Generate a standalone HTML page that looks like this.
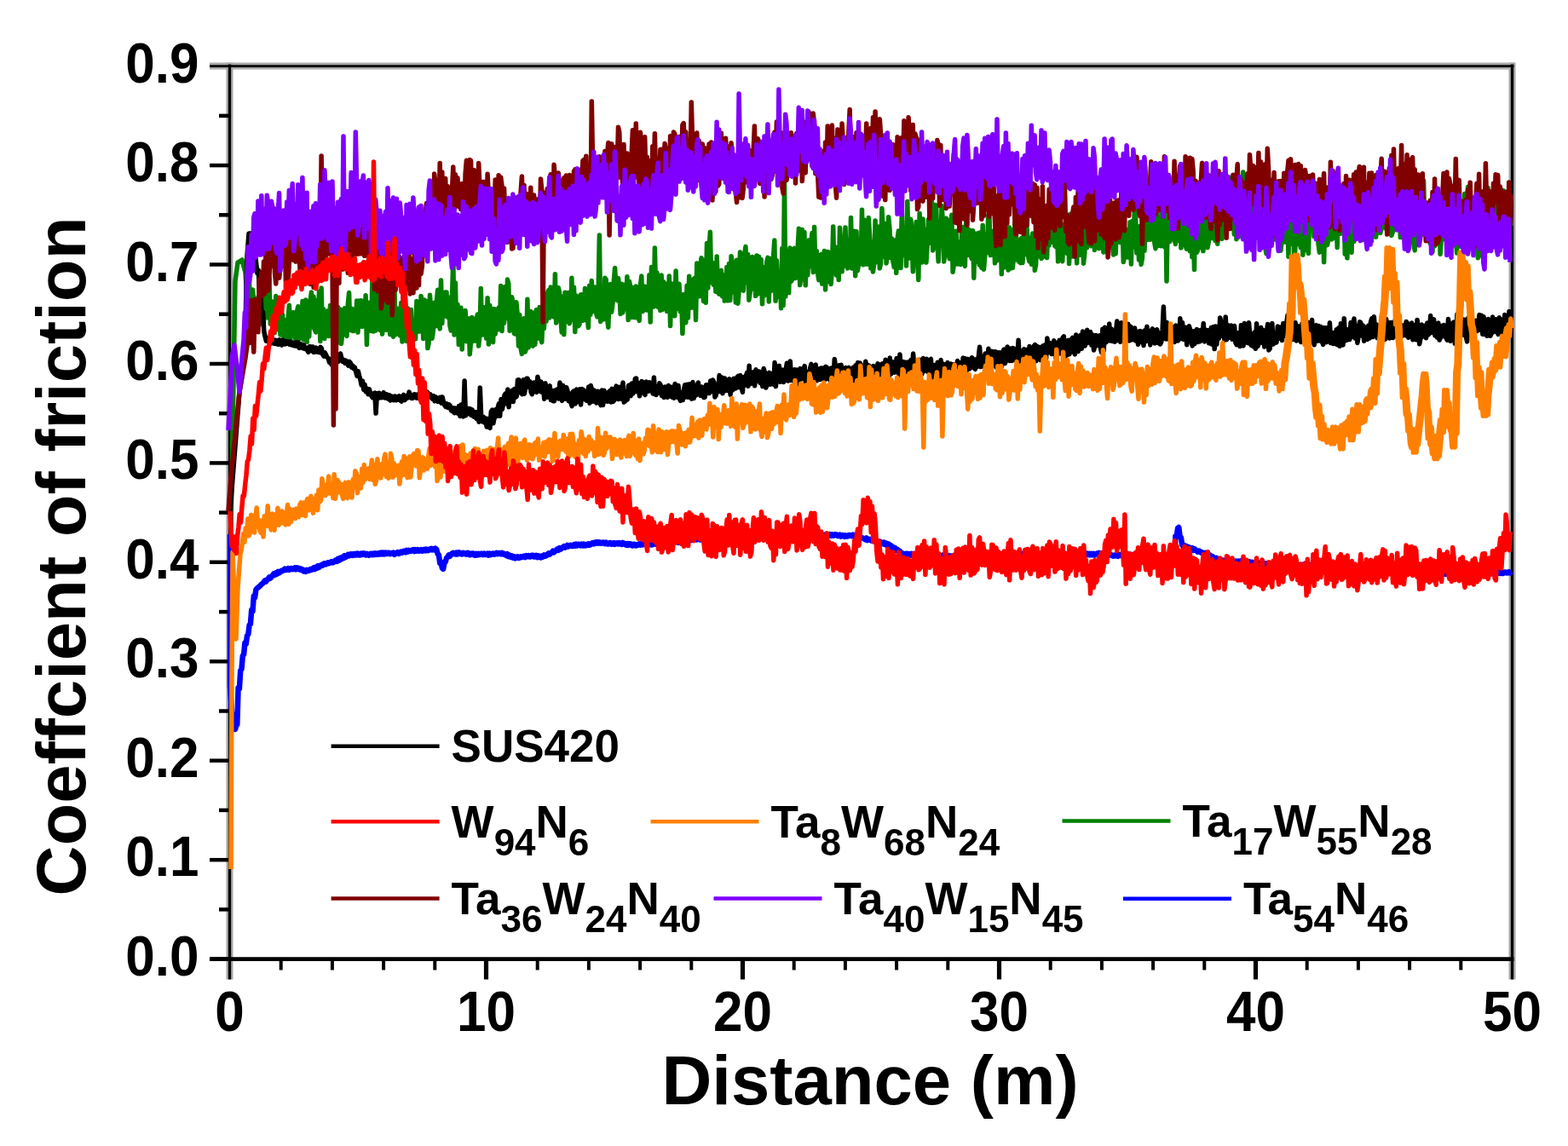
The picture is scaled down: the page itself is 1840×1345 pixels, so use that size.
<!DOCTYPE html>
<html><head><meta charset="utf-8"><title>Coefficient of friction vs distance</title>
<style>
html,body{margin:0;padding:0;background:#fff;}
body{width:1840px;height:1345px;overflow:hidden;}
svg{display:block;}
text{font-family:"Liberation Sans",Arial,sans-serif;font-weight:bold;fill:#000;}
.t{font-size:62px;}
.xt{font-size:81.5px;}
.yt{font-size:81.5px;}
.lg{font-size:53px;}
.s{font-size:44px;}
</style></head><body>
<svg width="1840" height="1345" viewBox="0 0 1840 1345">
<rect width="1840" height="1345" fill="#fff"/>
<g><line x1="269.5" y1="73.6" x2="269.5" y2="1149.5" stroke="#a8a8a8" stroke-width="8"/><line x1="1774.5" y1="73.6" x2="1774.5" y2="1149.5" stroke="#a8a8a8" stroke-width="8"/><line x1="246" y1="77.6" x2="1777.5" y2="77.6" stroke="#a8a8a8" stroke-width="8"/></g>
<g><line x1="246" y1="1125.6" x2="269.5" y2="1125.6" stroke="#000" stroke-width="4.5"/><line x1="246" y1="1009.2" x2="269.5" y2="1009.2" stroke="#000" stroke-width="4.5"/><line x1="246" y1="892.7" x2="269.5" y2="892.7" stroke="#000" stroke-width="4.5"/><line x1="246" y1="776.3" x2="269.5" y2="776.3" stroke="#000" stroke-width="4.5"/><line x1="246" y1="659.8" x2="269.5" y2="659.8" stroke="#000" stroke-width="4.5"/><line x1="246" y1="543.4" x2="269.5" y2="543.4" stroke="#000" stroke-width="4.5"/><line x1="246" y1="427.0" x2="269.5" y2="427.0" stroke="#000" stroke-width="4.5"/><line x1="246" y1="310.5" x2="269.5" y2="310.5" stroke="#000" stroke-width="4.5"/><line x1="246" y1="194.1" x2="269.5" y2="194.1" stroke="#000" stroke-width="4.5"/><line x1="257" y1="1067.4" x2="269.5" y2="1067.4" stroke="#000" stroke-width="4.5"/><line x1="257" y1="950.9" x2="269.5" y2="950.9" stroke="#000" stroke-width="4.5"/><line x1="257" y1="834.5" x2="269.5" y2="834.5" stroke="#000" stroke-width="4.5"/><line x1="257" y1="718.1" x2="269.5" y2="718.1" stroke="#000" stroke-width="4.5"/><line x1="257" y1="601.6" x2="269.5" y2="601.6" stroke="#000" stroke-width="4.5"/><line x1="257" y1="485.2" x2="269.5" y2="485.2" stroke="#000" stroke-width="4.5"/><line x1="257" y1="368.7" x2="269.5" y2="368.7" stroke="#000" stroke-width="4.5"/><line x1="257" y1="252.3" x2="269.5" y2="252.3" stroke="#000" stroke-width="4.5"/><line x1="257" y1="135.9" x2="269.5" y2="135.9" stroke="#000" stroke-width="4.5"/><line x1="570.5" y1="1125.6" x2="570.5" y2="1149.5" stroke="#000" stroke-width="5.2"/><line x1="871.5" y1="1125.6" x2="871.5" y2="1149.5" stroke="#000" stroke-width="5.2"/><line x1="1172.5" y1="1125.6" x2="1172.5" y2="1149.5" stroke="#000" stroke-width="5.2"/><line x1="1473.5" y1="1125.6" x2="1473.5" y2="1149.5" stroke="#000" stroke-width="5.2"/><line x1="329.7" y1="1125.6" x2="329.7" y2="1138.5" stroke="#000" stroke-width="4"/><line x1="389.9" y1="1125.6" x2="389.9" y2="1138.5" stroke="#000" stroke-width="4"/><line x1="450.1" y1="1125.6" x2="450.1" y2="1138.5" stroke="#000" stroke-width="4"/><line x1="510.3" y1="1125.6" x2="510.3" y2="1138.5" stroke="#000" stroke-width="4"/><line x1="630.7" y1="1125.6" x2="630.7" y2="1138.5" stroke="#000" stroke-width="4"/><line x1="690.9" y1="1125.6" x2="690.9" y2="1138.5" stroke="#000" stroke-width="4"/><line x1="751.1" y1="1125.6" x2="751.1" y2="1138.5" stroke="#000" stroke-width="4"/><line x1="811.3" y1="1125.6" x2="811.3" y2="1138.5" stroke="#000" stroke-width="4"/><line x1="931.7" y1="1125.6" x2="931.7" y2="1138.5" stroke="#000" stroke-width="4"/><line x1="991.9" y1="1125.6" x2="991.9" y2="1138.5" stroke="#000" stroke-width="4"/><line x1="1052.1" y1="1125.6" x2="1052.1" y2="1138.5" stroke="#000" stroke-width="4"/><line x1="1112.3" y1="1125.6" x2="1112.3" y2="1138.5" stroke="#000" stroke-width="4"/><line x1="1232.7" y1="1125.6" x2="1232.7" y2="1138.5" stroke="#000" stroke-width="4"/><line x1="1292.9" y1="1125.6" x2="1292.9" y2="1138.5" stroke="#000" stroke-width="4"/><line x1="1353.1" y1="1125.6" x2="1353.1" y2="1138.5" stroke="#000" stroke-width="4"/><line x1="1413.3" y1="1125.6" x2="1413.3" y2="1138.5" stroke="#000" stroke-width="4"/><line x1="1533.7" y1="1125.6" x2="1533.7" y2="1138.5" stroke="#000" stroke-width="4"/><line x1="1593.9" y1="1125.6" x2="1593.9" y2="1138.5" stroke="#000" stroke-width="4"/><line x1="1654.1" y1="1125.6" x2="1654.1" y2="1138.5" stroke="#000" stroke-width="4"/><line x1="1714.3" y1="1125.6" x2="1714.3" y2="1138.5" stroke="#000" stroke-width="4"/></g>
<g><line x1="269.5" y1="75.6" x2="269.5" y2="1149.5" stroke="#000" stroke-width="3.3"/><line x1="1774.5" y1="75.6" x2="1774.5" y2="1149.5" stroke="#000" stroke-width="3.3"/><line x1="246" y1="77.6" x2="1776.5" y2="77.6" stroke="#000" stroke-width="2.8"/><line x1="246" y1="1125.6" x2="1776.5" y2="1125.6" stroke="#000" stroke-width="4.6"/></g>
<g><polyline fill="none" stroke="#0000ff" stroke-width="6.5" stroke-linejoin="round" stroke-linecap="butt" points="270.0,627.0 270.0,805.0 272.0,835.0 276.0,856.0 277.0,851.9 278.3,850.4 279.6,807.2 280.9,808.3 282.2,787.2 283.5,785.3 284.8,769.7 286.1,768.0 287.4,754.5 288.7,755.7 290.0,746.1 291.3,744.3 292.6,733.8 293.9,732.4 295.2,715.9 296.5,717.6 297.8,699.7 299.1,701.3 300.4,691.9 301.7,690.5 303.0,689.4 304.3,688.4 305.6,687.2 306.9,685.7 308.2,684.8 309.5,683.3 310.8,681.4 312.1,682.6 313.4,680.4 314.7,679.5 316.0,677.3 317.3,678.7 318.6,676.8 319.9,675.2 321.2,673.5 322.5,674.9 323.8,672.3 325.1,673.6 326.4,671.0 327.7,672.4 329.0,671.1 330.3,669.7 331.6,670.0 332.9,668.8 334.2,667.6 335.5,669.0 336.8,668.8 338.1,667.2 339.4,668.8 340.7,667.1 342.0,666.9 343.3,668.2 344.6,667.8 345.9,666.5 347.2,668.2 348.5,666.3 349.8,666.7 351.1,668.3 352.4,667.4 353.7,669.0 355.0,668.4 356.3,670.3 357.6,669.3 358.9,670.8 360.2,668.9 361.5,670.1 362.8,669.7 364.1,668.2 365.4,668.9 366.7,667.7 368.0,666.5 369.3,668.1 370.6,665.6 371.9,666.9 373.2,664.1 374.5,665.9 375.8,664.5 377.1,663.0 378.4,663.7 379.7,661.8 381.0,661.2 382.3,662.4 383.6,661.7 384.9,660.3 386.2,661.2 387.5,660.0 388.8,659.2 390.1,660.4 391.4,660.1 392.7,658.4 394.0,657.4 395.3,658.8 396.6,655.9 397.9,657.8 399.2,654.8 400.5,656.3 401.8,653.8 403.1,655.1 404.4,652.2 405.7,653.9 407.0,652.6 408.3,650.9 409.6,652.4 410.9,650.4 412.2,650.2 413.5,651.7 414.8,650.2 416.1,651.5 417.4,650.0 418.7,651.2 420.0,649.7 421.3,651.4 422.6,651.4 423.9,649.8 425.2,650.9 426.5,649.3 427.8,649.7 429.1,651.4 430.4,649.9 431.7,651.2 433.0,651.7 434.3,650.0 435.6,649.8 436.9,651.1 438.2,649.7 439.5,650.9 440.8,649.4 442.1,650.8 443.4,650.8 444.7,649.1 446.0,650.3 447.3,648.7 448.6,650.4 449.9,648.7 451.2,650.2 452.5,648.7 453.8,649.9 455.1,648.8 456.4,648.7 457.7,650.1 459.0,649.0 460.3,650.0 461.6,648.8 462.9,650.7 464.2,649.7 465.5,648.7 466.8,648.0 468.1,649.8 469.4,649.2 470.7,647.6 472.0,648.5 473.3,647.0 474.6,646.7 475.9,648.2 477.2,646.0 478.5,647.5 479.8,645.9 481.1,647.1 482.4,646.8 483.7,645.4 485.0,645.1 486.3,647.0 487.6,645.1 488.9,646.6 490.2,645.3 491.5,646.7 492.8,646.3 494.1,645.2 495.4,646.8 496.7,645.3 498.0,644.8 499.3,646.3 500.6,644.7 501.9,646.2 503.2,645.8 504.5,644.5 505.8,643.9 507.1,645.4 508.4,644.1 509.7,645.3 511.0,643.8 512.3,645.0 513.6,650.0 514.9,651.4 516.2,660.7 517.5,659.5 518.8,666.5 520.1,667.9 521.4,660.8 522.7,659.4 524.0,654.8 525.3,653.6 526.6,651.5 527.9,652.9 529.2,651.0 530.5,649.5 531.8,648.8 533.1,650.1 534.4,650.5 535.7,648.8 537.0,650.3 538.3,648.3 539.6,648.8 540.9,650.3 542.2,650.4 543.5,648.8 544.8,649.2 546.1,650.4 547.4,650.7 548.7,648.8 550.0,649.2 551.3,651.3 552.6,651.1 553.9,649.6 555.2,649.6 556.5,651.5 557.8,651.7 559.1,650.0 560.4,651.4 561.7,650.0 563.0,651.0 564.3,649.8 565.6,649.8 566.9,651.0 568.2,649.7 569.5,651.0 570.8,650.9 572.1,649.7 573.4,651.6 574.7,649.6 576.0,651.0 577.3,649.8 578.6,649.5 579.9,650.7 581.2,650.3 582.5,649.0 583.8,650.2 585.1,649.1 586.4,649.0 587.7,650.2 589.0,648.9 590.3,650.4 591.6,649.9 592.9,651.1 594.2,652.0 595.5,650.3 596.8,653.0 598.1,651.7 599.4,653.8 600.7,652.4 602.0,654.7 603.3,653.5 604.6,655.2 605.9,653.9 607.2,653.4 608.5,655.0 609.8,654.6 611.1,653.3 612.4,654.0 613.7,653.1 615.0,652.5 616.3,654.0 617.6,652.1 618.9,653.2 620.2,652.1 621.5,653.4 622.8,653.4 624.1,651.7 625.4,651.8 626.7,653.5 628.0,653.4 629.3,651.9 630.6,654.1 631.9,652.4 633.2,652.8 634.5,654.4 635.8,652.7 637.1,653.5 638.4,651.5 639.7,652.8 641.0,652.3 642.3,650.5 643.6,649.5 644.9,650.8 646.2,649.5 647.5,648.4 648.8,646.8 650.1,648.3 651.4,647.0 652.7,645.6 654.0,644.4 655.3,645.9 656.6,643.2 657.9,644.6 659.2,643.3 660.5,642.3 661.8,641.2 663.1,642.6 664.4,641.6 665.7,639.9 667.0,641.4 668.3,640.2 669.6,639.8 670.9,640.9 672.2,640.9 673.5,639.3 674.8,640.5 676.1,638.8 677.4,640.3 678.7,638.7 680.0,639.1 681.3,640.4 682.6,638.7 683.9,640.4 685.2,638.8 686.5,640.4 687.8,640.2 689.1,638.8 690.4,638.3 691.7,639.8 693.0,639.3 694.3,637.7 695.6,637.0 696.9,638.4 698.2,636.7 699.5,637.7 700.8,636.2 702.1,637.5 703.4,636.3 704.7,637.5 706.0,637.7 707.3,636.4 708.6,636.6 709.9,638.1 711.2,636.6 712.5,638.6 713.8,638.5 715.1,637.2 716.4,637.1 717.7,638.8 719.0,638.6 720.3,637.3 721.6,638.7 722.9,637.4 724.2,637.3 725.5,638.4 726.8,637.2 728.1,638.4 729.4,638.9 730.7,636.9 732.0,637.6 733.3,638.9 734.6,639.6 735.9,638.1 737.2,639.9 738.5,638.1 739.8,638.3 741.1,640.2 742.4,640.5 743.7,638.7 745.0,638.9 746.3,640.5 747.6,640.1 748.9,638.8 750.2,638.3 751.5,639.6 752.8,637.5 754.1,639.4 755.4,639.0 756.7,637.9 758.0,637.7 759.3,639.1 760.6,638.0 761.9,639.0 763.2,637.8 764.5,639.5 765.8,639.2 767.1,637.6 768.4,637.0 769.7,638.6 771.0,636.8 772.3,638.3 773.6,635.8 774.9,637.2 776.2,637.0 777.5,635.2 778.8,636.1 780.1,635.0 781.4,634.7 782.7,635.9 784.0,636.3 785.3,635.0 786.6,636.1 787.9,634.9 789.2,634.5 790.5,636.5 791.8,636.3 793.1,635.3 794.4,635.3 795.7,636.7 797.0,634.8 798.3,636.6 799.6,634.7 800.9,636.4 802.2,634.9 803.5,636.2 804.8,634.4 806.1,635.8 807.4,635.2 808.7,633.7 810.0,634.1 811.3,632.7 812.6,633.7 813.9,632.2 815.2,633.4 816.5,631.7 817.8,633.2 819.1,632.1 820.4,631.8 821.7,633.4 823.0,632.1 824.3,633.4 825.6,632.0 826.9,633.9 828.2,632.5 829.5,634.0 830.8,633.8 832.1,632.5 833.4,632.2 834.7,634.3 836.0,631.9 837.3,633.2 838.6,632.9 839.9,631.6 841.2,632.5 842.5,631.2 843.8,631.1 845.1,632.6 846.4,632.2 847.7,630.7 849.0,631.7 850.3,630.6 851.6,630.4 852.9,631.7 854.2,630.1 855.5,631.8 856.8,630.0 858.1,631.5 859.4,629.9 860.7,631.5 862.0,631.8 863.3,630.3 864.6,632.1 865.9,630.5 867.2,630.4 868.5,631.9 869.8,630.4 871.1,632.5 872.4,630.0 873.7,631.6 875.0,629.8 876.3,631.1 877.6,630.8 878.9,629.5 880.2,630.5 881.5,629.2 882.8,628.8 884.1,630.2 885.4,630.0 886.7,628.5 888.0,629.9 889.3,627.9 890.6,627.8 891.9,629.1 893.2,628.7 894.5,627.5 895.8,627.4 897.1,628.5 898.4,626.9 899.7,628.5 901.0,627.0 902.3,628.3 903.6,626.9 904.9,628.2 906.2,628.4 907.5,627.1 908.8,628.5 910.1,626.9 911.4,627.1 912.7,628.3 914.0,628.2 915.3,627.2 916.6,627.0 917.9,628.3 919.2,627.4 920.5,628.6 921.8,627.1 923.1,628.5 924.4,627.0 925.7,628.2 927.0,626.7 928.3,628.3 929.6,626.8 930.9,628.1 932.2,626.8 933.5,627.9 934.8,628.4 936.1,627.1 937.4,628.0 938.7,626.7 940.0,626.8 941.3,628.5 942.6,626.7 943.9,628.4 945.2,626.6 946.5,628.4 947.8,628.3 949.1,626.8 950.4,627.1 951.7,628.3 953.0,627.3 954.3,628.5 955.6,627.3 956.9,628.6 958.2,629.0 959.5,627.5 960.8,629.0 962.1,627.8 963.4,628.9 964.7,627.8 966.0,627.8 967.3,629.1 968.6,627.7 969.9,628.9 971.2,627.6 972.5,628.8 973.8,627.3 975.1,628.7 976.4,627.4 977.7,628.8 979.0,628.4 980.3,627.1 981.6,627.4 982.9,629.0 984.2,629.1 985.5,627.6 986.8,629.6 988.1,628.0 989.4,628.2 990.7,629.9 992.0,628.4 993.3,629.5 994.6,629.4 995.9,628.1 997.2,628.0 998.5,629.1 999.8,629.2 1001.1,627.6 1002.4,628.5 1003.7,629.7 1005.0,629.2 1006.3,630.5 1007.6,629.6 1008.9,631.0 1010.2,630.4 1011.5,631.6 1012.8,631.5 1014.1,632.5 1015.4,633.3 1016.7,631.4 1018.0,634.0 1019.3,632.7 1020.6,633.0 1021.9,634.4 1023.2,633.9 1024.5,635.1 1025.8,635.5 1027.1,634.3 1028.4,635.0 1029.7,636.4 1031.0,636.9 1032.3,635.5 1033.6,636.0 1034.9,637.6 1036.2,638.3 1037.5,636.8 1038.8,639.0 1040.1,637.7 1041.4,640.2 1042.7,638.5 1044.0,641.3 1045.3,640.3 1046.6,643.1 1047.9,642.0 1049.2,644.5 1050.5,643.2 1051.8,646.2 1053.1,645.0 1054.4,647.9 1055.7,646.6 1057.0,648.3 1058.3,649.6 1059.6,649.5 1060.9,651.0 1062.2,651.2 1063.5,649.8 1064.8,649.7 1066.1,651.2 1067.4,650.1 1068.7,651.5 1070.0,649.9 1071.3,651.3 1072.6,650.1 1073.9,651.4 1075.2,651.6 1076.5,650.6 1077.8,652.8 1079.1,650.7 1080.4,651.5 1081.7,652.8 1083.0,653.0 1084.3,651.5 1085.6,653.3 1086.9,651.7 1088.2,651.7 1089.5,652.9 1090.8,653.0 1092.1,651.2 1093.4,652.8 1094.7,651.5 1096.0,651.3 1097.3,652.9 1098.6,653.3 1099.9,651.8 1101.2,652.0 1102.5,653.1 1103.8,652.0 1105.1,653.1 1106.4,651.8 1107.7,653.7 1109.0,652.0 1110.3,653.3 1111.6,652.2 1112.9,653.7 1114.2,652.4 1115.5,653.8 1116.8,652.8 1118.1,654.5 1119.4,652.9 1120.7,654.3 1122.0,654.1 1123.3,653.0 1124.6,654.2 1125.9,652.3 1127.2,653.3 1128.5,652.0 1129.8,653.1 1131.1,651.6 1132.4,653.1 1133.7,651.6 1135.0,653.0 1136.3,651.5 1137.6,653.2 1138.9,651.8 1140.2,652.0 1141.5,653.4 1142.8,652.6 1144.1,653.7 1145.4,652.3 1146.7,653.7 1148.0,652.3 1149.3,653.9 1150.6,653.8 1151.9,652.6 1153.2,653.8 1154.5,652.2 1155.8,653.5 1157.1,651.9 1158.4,651.2 1159.7,653.1 1161.0,653.2 1162.3,651.5 1163.6,652.8 1164.9,651.3 1166.2,651.1 1167.5,652.5 1168.8,650.6 1170.1,652.2 1171.4,651.6 1172.7,649.6 1174.0,651.3 1175.3,650.3 1176.6,650.0 1177.9,651.7 1179.2,651.8 1180.5,650.0 1181.8,651.9 1183.1,649.8 1184.4,652.2 1185.7,650.6 1187.0,652.2 1188.3,650.8 1189.6,652.1 1190.9,650.7 1192.2,650.4 1193.5,652.0 1194.8,650.1 1196.1,651.6 1197.4,651.3 1198.7,649.6 1200.0,651.2 1201.3,649.6 1202.6,650.7 1203.9,649.6 1205.2,650.5 1206.5,649.1 1207.8,649.4 1209.1,650.6 1210.4,650.9 1211.7,649.6 1213.0,651.7 1214.3,649.4 1215.6,651.3 1216.9,649.8 1218.2,651.9 1219.5,650.5 1220.8,650.6 1222.1,652.2 1223.4,650.8 1224.7,652.1 1226.0,651.0 1227.3,652.4 1228.6,652.4 1229.9,650.8 1231.2,650.8 1232.5,652.4 1233.8,650.7 1235.1,652.1 1236.4,652.3 1237.7,650.8 1239.0,652.0 1240.3,650.9 1241.6,651.9 1242.9,650.5 1244.2,651.9 1245.5,650.3 1246.8,650.4 1248.1,651.8 1249.4,650.1 1250.7,651.7 1252.0,650.1 1253.3,651.8 1254.6,651.1 1255.9,649.6 1257.2,649.1 1258.5,650.6 1259.8,650.6 1261.1,649.1 1262.4,650.6 1263.7,649.1 1265.0,650.4 1266.3,648.7 1267.6,650.5 1268.9,649.1 1270.2,651.0 1271.5,649.3 1272.8,651.3 1274.1,649.9 1275.4,649.6 1276.7,651.1 1278.0,649.9 1279.3,651.4 1280.6,649.9 1281.9,651.2 1283.2,649.9 1284.5,651.6 1285.8,650.8 1287.1,649.6 1288.4,651.0 1289.7,649.0 1291.0,651.0 1292.3,649.3 1293.6,649.5 1294.9,651.3 1296.2,651.5 1297.5,649.8 1298.8,650.0 1300.1,651.5 1301.4,651.7 1302.7,650.5 1304.0,651.1 1305.3,652.1 1306.6,652.6 1307.9,651.5 1309.2,652.4 1310.5,651.0 1311.8,652.7 1313.1,651.2 1314.4,652.0 1315.7,650.8 1317.0,652.0 1318.3,650.9 1319.6,650.7 1320.9,651.7 1322.2,651.8 1323.5,650.1 1324.8,651.9 1326.1,650.5 1327.4,651.0 1328.7,652.1 1330.0,650.9 1331.3,652.1 1332.6,652.5 1333.9,651.0 1335.2,652.4 1336.5,651.1 1337.8,652.8 1339.1,651.1 1340.4,651.1 1341.7,652.4 1343.0,652.3 1344.3,651.3 1345.6,651.3 1346.9,652.6 1348.2,652.6 1349.5,651.1 1350.8,651.1 1352.1,652.7 1353.4,651.0 1354.7,653.1 1356.0,651.4 1357.3,653.1 1358.6,651.2 1359.9,652.7 1361.2,652.8 1362.5,651.3 1363.8,651.8 1365.1,653.0 1366.4,653.1 1367.7,651.9 1369.0,652.1 1370.3,653.2 1371.6,652.0 1372.9,653.6 1374.2,653.7 1375.5,652.4 1376.8,652.2 1378.1,653.8 1379.4,629.2 1380.7,630.5 1382.0,620.1 1383.3,619.0 1384.6,629.9 1385.9,630.9 1387.2,639.5 1388.5,641.1 1389.8,640.1 1391.1,641.5 1392.4,641.1 1393.7,641.9 1395.0,642.1 1396.3,643.4 1397.6,644.6 1398.9,643.3 1400.2,645.8 1401.5,644.2 1402.8,645.2 1404.1,646.6 1405.4,647.7 1406.7,646.5 1408.0,646.8 1409.3,648.6 1410.6,648.2 1411.9,649.5 1413.2,650.5 1414.5,648.9 1415.8,650.2 1417.1,651.5 1418.4,652.9 1419.7,651.5 1421.0,654.2 1422.3,652.8 1423.6,653.7 1424.9,655.3 1426.2,656.2 1427.5,654.9 1428.8,656.0 1430.1,657.4 1431.4,659.0 1432.7,657.1 1434.0,659.0 1435.3,657.6 1436.6,657.8 1437.9,659.6 1439.2,658.4 1440.5,659.7 1441.8,660.0 1443.1,658.7 1444.4,660.4 1445.7,658.6 1447.0,660.3 1448.3,658.7 1449.6,660.3 1450.9,658.7 1452.2,660.0 1453.5,658.7 1454.8,659.9 1456.1,658.4 1457.4,660.3 1458.7,658.8 1460.0,660.5 1461.3,659.0 1462.6,658.8 1463.9,660.4 1465.2,661.0 1466.5,659.4 1467.8,661.1 1469.1,659.8 1470.4,660.2 1471.7,661.4 1473.0,660.5 1474.3,661.5 1475.6,661.7 1476.9,660.6 1478.2,662.0 1479.5,660.7 1480.8,660.9 1482.1,662.0 1483.4,662.4 1484.7,661.1 1486.0,661.4 1487.3,662.6 1488.6,661.9 1489.9,663.1 1491.2,661.5 1492.5,663.1 1493.8,661.6 1495.1,663.2 1496.4,661.7 1497.7,663.2 1499.0,663.1 1500.3,661.3 1501.6,662.8 1502.9,661.4 1504.2,663.3 1505.5,661.7 1506.8,663.2 1508.1,661.5 1509.4,661.8 1510.7,662.9 1512.0,663.8 1513.3,662.1 1514.6,662.5 1515.9,663.4 1517.2,663.9 1518.5,662.4 1519.8,662.7 1521.1,664.0 1522.4,662.9 1523.7,664.3 1525.0,664.0 1526.3,662.9 1527.6,664.3 1528.9,662.8 1530.2,662.7 1531.5,664.5 1532.8,664.2 1534.1,662.8 1535.4,662.5 1536.7,664.4 1538.0,663.1 1539.3,664.1 1540.6,664.2 1541.9,663.1 1543.2,663.2 1544.5,664.5 1545.8,663.4 1547.1,664.7 1548.4,665.4 1549.7,663.5 1551.0,664.0 1552.3,665.7 1553.6,665.3 1554.9,663.7 1556.2,665.6 1557.5,663.5 1558.8,665.8 1560.1,664.0 1561.4,666.0 1562.7,664.5 1564.0,664.5 1565.3,666.2 1566.6,666.8 1567.9,665.0 1569.2,666.8 1570.5,665.4 1571.8,667.3 1573.1,665.9 1574.4,665.9 1575.7,667.1 1577.0,667.5 1578.3,665.9 1579.6,666.3 1580.9,667.5 1582.2,666.6 1583.5,667.9 1584.8,666.9 1586.1,668.1 1587.4,668.0 1588.7,666.7 1590.0,667.8 1591.3,666.8 1592.6,668.1 1593.9,666.7 1595.2,668.0 1596.5,666.5 1597.8,666.7 1599.1,668.0 1600.4,668.0 1601.7,666.2 1603.0,666.8 1604.3,668.2 1605.6,668.3 1606.9,667.0 1608.2,668.7 1609.5,667.3 1610.8,668.9 1612.1,667.5 1613.4,668.1 1614.7,669.4 1616.0,668.6 1617.3,669.8 1618.6,668.6 1619.9,670.2 1621.2,669.1 1622.5,670.2 1623.8,669.2 1625.1,670.4 1626.4,669.3 1627.7,671.1 1629.0,669.4 1630.3,670.9 1631.6,669.9 1632.9,671.4 1634.2,669.9 1635.5,671.2 1636.8,669.6 1638.1,671.4 1639.4,669.8 1640.7,671.0 1642.0,670.9 1643.3,669.5 1644.6,670.7 1645.9,669.7 1647.2,669.4 1648.5,670.6 1649.8,671.3 1651.1,669.9 1652.4,670.4 1653.7,671.5 1655.0,672.1 1656.3,670.8 1657.6,671.5 1658.9,672.8 1660.2,673.3 1661.5,671.6 1662.8,673.0 1664.1,671.9 1665.4,672.9 1666.7,671.7 1668.0,672.7 1669.3,671.3 1670.6,672.6 1671.9,671.1 1673.2,672.6 1674.5,671.3 1675.8,672.5 1677.1,670.7 1678.4,670.7 1679.7,672.3 1681.0,673.0 1682.3,671.4 1683.6,671.5 1684.9,672.8 1686.2,671.8 1687.5,673.5 1688.8,673.1 1690.1,671.8 1691.4,671.9 1692.7,673.4 1694.0,672.2 1695.3,673.7 1696.6,673.7 1697.9,672.3 1699.2,673.4 1700.5,672.1 1701.8,672.4 1703.1,674.1 1704.4,673.6 1705.7,672.5 1707.0,673.5 1708.3,672.1 1709.6,673.6 1710.9,672.2 1712.2,673.7 1713.5,672.4 1714.8,672.3 1716.1,673.9 1717.4,673.9 1718.7,672.4 1720.0,672.8 1721.3,674.3 1722.6,673.1 1723.9,674.4 1725.2,673.5 1726.5,674.8 1727.8,675.3 1729.1,673.5 1730.4,675.5 1731.7,673.9 1733.0,673.8 1734.3,675.5 1735.6,675.5 1736.9,673.9 1738.2,673.9 1739.5,675.3 1740.8,673.8 1742.1,675.0 1743.4,673.4 1744.7,674.8 1746.0,673.1 1747.3,674.3 1748.6,673.8 1749.9,672.5 1751.2,671.8 1752.5,673.4 1753.8,673.0 1755.1,671.6 1756.4,671.6 1757.7,672.7 1759.0,671.5 1760.3,672.9 1761.6,671.8 1762.9,672.9 1764.2,672.9 1765.5,671.5 1766.8,671.5 1768.1,672.6 1769.4,672.4 1770.7,671.2 1772.0,672.4 1773.3,670.8"/><polyline fill="none" stroke="#008000" stroke-width="5.5" stroke-linejoin="round" stroke-linecap="butt" points="271.0,620.0 274.0,450.0 276.0,330.0 279.0,308.0 284.0,305.0 288.0,320.0 290.0,349.8 291.3,321.2 292.6,333.9 293.9,357.8 295.2,373.4 296.5,340.0 297.8,353.3 299.1,378.8 300.4,352.0 301.7,377.7 303.0,348.7 304.3,381.5 305.6,379.7 306.9,328.5 308.2,328.6 309.5,378.9 310.8,341.2 312.1,372.5 313.4,343.4 314.7,372.9 316.0,327.0 317.3,380.2 318.6,353.4 319.9,380.7 321.2,356.3 322.5,390.4 323.8,347.6 325.1,381.7 326.4,386.5 327.7,362.7 329.0,393.0 330.3,369.4 331.6,369.4 332.9,395.5 334.2,401.3 335.5,375.8 336.8,402.2 338.1,373.6 339.4,358.2 340.7,401.9 342.0,366.5 343.3,393.7 344.6,366.8 345.9,392.9 347.2,399.8 348.5,365.4 349.8,359.8 351.1,398.0 352.4,359.9 353.7,390.5 355.0,353.5 356.3,398.9 357.6,386.1 358.9,351.9 360.2,401.3 361.5,362.2 362.8,395.0 364.1,353.7 365.4,343.0 366.7,384.0 368.0,348.1 369.3,387.0 370.6,389.9 371.9,352.4 373.2,379.0 374.5,342.0 375.8,400.5 377.1,338.1 378.4,391.4 379.7,362.8 381.0,397.4 382.3,367.5 383.6,394.2 384.9,364.8 386.2,394.4 387.5,358.5 388.8,364.4 390.1,391.2 391.4,396.2 392.7,343.4 394.0,376.3 395.3,398.5 396.6,360.4 397.9,402.0 399.2,363.1 400.5,403.4 401.8,390.4 403.1,366.5 404.4,361.8 405.7,390.0 407.0,394.4 408.3,357.3 409.6,343.5 410.9,386.9 412.2,387.8 413.5,362.5 414.8,388.5 416.1,363.8 417.4,382.8 418.7,353.0 420.0,390.1 421.3,353.0 422.6,383.2 423.9,352.8 425.2,383.3 426.5,357.3 427.8,382.0 429.1,346.8 430.4,404.5 431.7,363.0 433.0,355.2 434.3,384.4 435.6,388.5 436.9,330.3 438.2,388.9 439.5,357.9 440.8,388.1 442.1,332.3 443.4,332.9 444.7,381.5 446.0,387.5 447.3,359.2 448.6,392.1 449.9,361.2 451.2,387.3 452.5,354.3 453.8,387.2 455.1,355.6 456.4,352.5 457.7,392.5 459.0,342.4 460.3,390.9 461.6,395.1 462.9,336.0 464.2,392.8 465.5,362.0 466.8,362.4 468.1,385.9 469.4,393.9 470.7,355.6 472.0,400.9 473.3,356.9 474.6,392.8 475.9,361.8 477.2,400.3 478.5,361.8 479.8,374.3 481.1,409.3 482.4,363.5 483.7,400.1 485.0,399.6 486.3,375.9 487.6,397.8 488.9,353.6 490.2,355.5 491.5,389.1 492.8,388.6 494.1,347.4 495.4,358.8 496.7,397.5 498.0,352.0 499.3,389.9 500.6,353.4 501.9,408.6 503.2,402.0 504.5,346.3 505.8,369.8 507.1,397.2 508.4,387.8 509.7,355.3 511.0,382.9 512.3,354.8 513.6,340.2 514.9,379.1 516.2,385.9 517.5,329.1 518.8,379.3 520.1,343.3 521.4,371.1 522.7,343.0 524.0,343.0 525.3,372.2 526.6,348.9 527.9,382.1 529.2,388.0 530.5,350.8 531.8,303.0 533.1,392.9 534.4,331.9 535.7,390.5 537.0,357.3 538.3,404.5 539.6,398.9 540.9,361.3 542.2,410.0 543.5,372.5 544.8,398.7 546.1,364.5 547.4,400.7 548.7,374.4 550.0,373.9 551.3,415.8 552.6,399.8 553.9,372.5 555.2,400.4 556.5,375.2 557.8,400.1 559.1,373.7 560.4,369.1 561.7,406.1 563.0,391.8 564.3,338.5 565.6,393.2 566.9,364.2 568.2,393.0 569.5,360.5 570.8,397.1 572.1,349.7 573.4,403.9 574.7,358.3 576.0,365.8 577.3,394.9 578.6,401.6 579.9,362.5 581.2,392.0 582.5,364.7 583.8,387.1 585.1,361.3 586.4,386.0 587.7,335.6 589.0,388.5 590.3,345.6 591.6,379.2 592.9,336.5 594.2,373.6 595.5,328.1 596.8,333.2 598.1,388.3 599.4,384.5 600.7,348.7 602.0,355.3 603.3,391.4 604.6,391.9 605.9,354.7 607.2,369.1 608.5,406.0 609.8,369.5 611.1,408.5 612.4,415.4 613.7,378.6 615.0,373.8 616.3,412.9 617.6,409.0 618.9,351.3 620.2,407.8 621.5,379.1 622.8,365.4 624.1,405.1 625.4,406.0 626.7,367.1 628.0,404.2 629.3,363.8 630.6,364.7 631.9,396.9 633.2,360.4 634.5,397.4 635.8,401.6 637.1,368.0 638.4,385.5 639.7,354.8 641.0,377.1 642.3,345.1 643.6,340.7 644.9,372.9 646.2,337.0 647.5,363.3 648.8,341.6 650.1,371.9 651.4,321.7 652.7,379.0 654.0,366.1 655.3,337.8 656.6,343.7 657.9,371.3 659.2,390.1 660.5,347.9 661.8,392.6 663.1,343.2 664.4,350.9 665.7,377.4 667.0,343.6 668.3,379.7 669.6,374.2 670.9,326.2 672.2,375.2 673.5,337.3 674.8,389.4 676.1,346.8 677.4,356.1 678.7,382.7 680.0,380.8 681.3,346.0 682.6,345.7 683.9,376.2 685.2,375.8 686.5,338.4 687.8,340.5 689.1,369.7 690.4,384.4 691.7,335.2 693.0,369.2 694.3,329.4 695.6,365.6 696.9,338.9 698.2,337.1 699.5,367.0 700.8,371.9 702.1,345.2 703.4,276.0 704.7,377.4 706.0,374.2 707.3,340.7 708.6,374.8 709.9,326.2 711.2,328.3 712.5,372.5 713.8,384.2 715.1,345.7 716.4,333.6 717.7,366.2 719.0,356.0 720.3,330.2 721.6,314.4 722.9,342.2 724.2,352.5 725.5,326.4 726.8,338.0 728.1,368.4 729.4,333.3 730.7,367.1 732.0,361.2 733.3,334.0 734.6,361.9 735.9,324.8 737.2,375.4 738.5,330.3 739.8,337.0 741.1,372.6 742.4,337.5 743.7,372.0 745.0,372.7 746.3,335.9 747.6,346.6 748.9,372.7 750.2,376.4 751.5,334.6 752.8,324.1 754.1,365.6 755.4,364.0 756.7,336.2 758.0,337.3 759.3,363.9 760.6,359.2 761.9,322.8 763.2,378.0 764.5,313.5 765.8,320.9 767.1,359.9 768.4,291.1 769.7,350.6 771.0,319.9 772.3,360.5 773.6,338.1 774.9,364.3 776.2,323.0 777.5,363.4 778.8,330.8 780.1,361.3 781.4,333.3 782.7,365.3 784.0,360.3 785.3,324.0 786.6,382.5 787.9,332.8 789.2,366.5 790.5,335.6 791.8,370.8 793.1,317.9 794.4,362.5 795.7,334.4 797.0,333.4 798.3,365.7 799.6,346.1 800.9,391.3 802.2,345.5 803.5,378.9 804.8,378.7 806.1,335.3 807.4,373.0 808.7,324.2 810.0,361.5 811.3,329.5 812.6,361.0 813.9,327.5 815.2,326.4 816.5,375.4 817.8,309.1 819.1,347.6 820.4,347.7 821.7,314.1 823.0,302.7 824.3,333.2 825.6,353.6 826.9,305.2 828.2,355.3 829.5,285.6 830.8,338.0 832.1,292.6 833.4,272.2 834.7,331.4 836.0,308.3 837.3,334.2 838.6,309.2 839.9,342.2 841.2,301.0 842.5,343.0 843.8,345.2 845.1,318.2 846.4,317.5 847.7,347.7 849.0,322.7 850.3,353.1 851.6,350.7 852.9,313.6 854.2,352.8 855.5,309.6 856.8,352.4 858.1,300.8 859.4,308.0 860.7,343.1 862.0,311.4 863.3,354.9 864.6,305.3 865.9,356.3 867.2,341.3 868.5,295.9 869.8,302.9 871.1,332.5 872.4,341.2 873.7,298.1 875.0,289.5 876.3,331.5 877.6,298.6 878.9,352.2 880.2,343.0 881.5,310.9 882.8,301.4 884.1,339.1 885.4,313.3 886.7,347.3 888.0,299.9 889.3,345.0 890.6,301.2 891.9,336.8 893.2,304.5 894.5,356.7 895.8,313.6 897.1,346.9 898.4,341.4 899.7,307.5 901.0,302.3 902.3,354.0 903.6,303.4 904.9,341.3 906.2,340.2 907.5,301.9 908.8,282.1 910.1,353.1 911.4,305.4 912.7,337.0 914.0,348.5 915.3,319.6 916.6,361.7 917.9,291.4 919.2,358.4 920.5,211.0 921.8,347.8 923.1,313.1 924.4,294.6 925.7,343.6 927.0,290.9 928.3,330.3 929.6,328.5 930.9,293.3 932.2,291.5 933.5,326.4 934.8,322.1 936.1,292.4 937.4,268.3 938.7,334.6 940.0,322.2 941.3,269.5 942.6,327.9 943.9,272.5 945.2,334.8 946.5,295.4 947.8,322.8 949.1,282.1 950.4,312.8 951.7,287.9 953.0,273.4 954.3,319.5 955.6,266.5 956.9,317.8 958.2,294.2 959.5,319.8 960.8,328.7 962.1,300.2 963.4,298.7 964.7,333.1 966.0,327.7 967.3,294.5 968.6,340.0 969.9,304.6 971.2,295.5 972.5,330.3 973.8,296.6 975.1,333.5 976.4,317.7 977.7,266.1 979.0,318.5 980.3,289.9 981.6,323.0 982.9,294.6 984.2,328.5 985.5,267.3 986.8,285.4 988.1,318.8 989.4,278.9 990.7,309.8 992.0,267.1 993.3,312.6 994.6,314.9 995.9,281.2 997.2,313.8 998.5,255.6 999.8,314.9 1001.1,280.7 1002.4,271.2 1003.7,323.8 1005.0,271.7 1006.3,317.7 1007.6,310.1 1008.9,282.0 1010.2,306.3 1011.5,246.3 1012.8,310.8 1014.1,257.9 1015.4,310.1 1016.7,272.8 1018.0,310.0 1019.3,255.6 1020.6,277.2 1021.9,314.8 1023.2,283.8 1024.5,318.9 1025.8,309.0 1027.1,259.1 1028.4,307.7 1029.7,280.9 1031.0,266.0 1032.3,314.9 1033.6,309.0 1034.9,244.5 1036.2,270.2 1037.5,301.3 1038.8,262.6 1040.1,308.9 1041.4,296.3 1042.7,254.7 1044.0,268.7 1045.3,302.6 1046.6,280.1 1047.9,306.7 1049.2,313.4 1050.5,282.1 1051.8,320.3 1053.1,280.9 1054.4,270.9 1055.7,314.1 1057.0,314.4 1058.3,246.3 1059.6,299.6 1060.9,270.8 1062.2,267.4 1063.5,311.9 1064.8,236.4 1066.1,295.9 1067.4,302.9 1068.7,257.3 1070.0,268.5 1071.3,318.7 1072.6,269.8 1073.9,297.6 1075.2,260.6 1076.5,303.3 1077.8,328.4 1079.1,250.4 1080.4,277.9 1081.7,308.1 1083.0,257.1 1084.3,300.1 1085.6,269.5 1086.9,308.1 1088.2,287.6 1089.5,257.4 1090.8,256.1 1092.1,284.9 1093.4,236.6 1094.7,293.9 1096.0,284.6 1097.3,240.5 1098.6,241.1 1099.9,284.4 1101.2,306.8 1102.5,260.4 1103.8,287.8 1105.1,241.5 1106.4,260.3 1107.7,306.9 1109.0,295.4 1110.3,256.2 1111.6,258.5 1112.9,296.5 1114.2,303.8 1115.5,267.3 1116.8,252.3 1118.1,319.3 1119.4,310.0 1120.7,280.5 1122.0,271.3 1123.3,310.0 1124.6,283.9 1125.9,308.4 1127.2,310.4 1128.5,274.2 1129.8,266.5 1131.1,308.4 1132.4,312.3 1133.7,259.8 1135.0,299.6 1136.3,269.2 1137.6,269.9 1138.9,297.6 1140.2,303.4 1141.5,270.8 1142.8,326.2 1144.1,274.1 1145.4,307.4 1146.7,275.3 1148.0,273.7 1149.3,310.9 1150.6,272.7 1151.9,314.2 1153.2,264.4 1154.5,316.3 1155.8,299.8 1157.1,275.1 1158.4,296.4 1159.7,252.7 1161.0,256.0 1162.3,299.6 1163.6,272.6 1164.9,298.0 1166.2,270.9 1167.5,308.8 1168.8,277.6 1170.1,305.7 1171.4,272.8 1172.7,301.8 1174.0,263.4 1175.3,321.6 1176.6,274.3 1177.9,314.3 1179.2,308.2 1180.5,269.8 1181.8,272.7 1183.1,317.0 1184.4,266.9 1185.7,315.0 1187.0,269.5 1188.3,314.6 1189.6,300.0 1190.9,260.9 1192.2,267.1 1193.5,305.1 1194.8,281.7 1196.1,307.4 1197.4,308.6 1198.7,279.5 1200.0,308.5 1201.3,274.5 1202.6,298.8 1203.9,258.0 1205.2,269.3 1206.5,300.5 1207.8,306.6 1209.1,278.9 1210.4,310.2 1211.7,274.1 1213.0,274.5 1214.3,317.3 1215.6,310.8 1216.9,271.6 1218.2,268.6 1219.5,300.7 1220.8,277.0 1222.1,303.3 1223.4,301.9 1224.7,267.1 1226.0,299.2 1227.3,268.4 1228.6,302.6 1229.9,257.2 1231.2,287.9 1232.5,254.7 1233.8,284.4 1235.1,234.1 1236.4,255.5 1237.7,288.3 1239.0,289.7 1240.3,261.9 1241.6,306.8 1242.9,270.7 1244.2,251.6 1245.5,303.2 1246.8,306.6 1248.1,263.7 1249.4,263.1 1250.7,294.7 1252.0,297.3 1253.3,260.4 1254.6,309.4 1255.9,251.3 1257.2,301.2 1258.5,258.2 1259.8,254.6 1261.1,296.0 1262.4,263.0 1263.7,308.8 1265.0,258.9 1266.3,293.3 1267.6,299.1 1268.9,264.2 1270.2,260.7 1271.5,309.3 1272.8,297.5 1274.1,252.0 1275.4,290.8 1276.7,249.2 1278.0,286.2 1279.3,251.8 1280.6,288.7 1281.9,253.4 1283.2,252.9 1284.5,293.4 1285.8,259.3 1287.1,286.0 1288.4,251.8 1289.7,291.7 1291.0,260.6 1292.3,289.6 1293.6,244.4 1294.9,296.0 1296.2,295.4 1297.5,232.8 1298.8,249.5 1300.1,280.8 1301.4,247.7 1302.7,285.3 1304.0,288.3 1305.3,249.6 1306.6,299.0 1307.9,259.5 1309.2,297.8 1310.5,257.7 1311.8,238.2 1313.1,283.9 1314.4,284.4 1315.7,251.9 1317.0,260.7 1318.3,307.5 1319.6,300.4 1320.9,269.1 1322.2,273.9 1323.5,301.9 1324.8,301.8 1326.1,260.8 1327.4,310.0 1328.7,259.4 1330.0,290.5 1331.3,246.1 1332.6,252.3 1333.9,296.8 1335.2,272.2 1336.5,305.0 1337.8,265.4 1339.1,310.3 1340.4,303.0 1341.7,254.5 1343.0,294.2 1344.3,252.1 1345.6,248.9 1346.9,281.3 1348.2,251.1 1349.5,281.2 1350.8,222.2 1352.1,279.5 1353.4,226.2 1354.7,284.3 1356.0,291.8 1357.3,240.9 1358.6,257.0 1359.9,288.5 1361.2,259.1 1362.5,288.7 1363.8,250.1 1365.1,284.9 1366.4,289.8 1367.7,240.9 1369.0,330.0 1370.3,252.2 1371.6,248.9 1372.9,283.5 1374.2,272.0 1375.5,230.6 1376.8,249.2 1378.1,280.1 1379.4,286.5 1380.7,250.2 1382.0,234.0 1383.3,282.2 1384.6,227.1 1385.9,290.9 1387.2,276.2 1388.5,218.3 1389.8,242.0 1391.1,287.5 1392.4,292.2 1393.7,257.1 1395.0,261.5 1396.3,294.7 1397.6,238.8 1398.9,301.6 1400.2,254.6 1401.5,316.5 1402.8,235.1 1404.1,296.4 1405.4,294.4 1406.7,255.0 1408.0,290.7 1409.3,261.3 1410.6,241.3 1411.9,294.6 1413.2,259.6 1414.5,286.2 1415.8,249.9 1417.1,290.6 1418.4,283.3 1419.7,258.1 1421.0,254.8 1422.3,279.5 1423.6,251.1 1424.9,278.4 1426.2,282.7 1427.5,243.4 1428.8,286.2 1430.1,222.8 1431.4,270.7 1432.7,240.0 1434.0,280.3 1435.3,227.9 1436.6,262.8 1437.9,225.5 1439.2,268.8 1440.5,219.4 1441.8,265.7 1443.1,208.2 1444.4,268.1 1445.7,234.3 1447.0,211.8 1448.3,274.9 1449.6,226.9 1450.9,280.7 1452.2,243.7 1453.5,278.2 1454.8,238.8 1456.1,267.6 1457.4,260.2 1458.7,202.0 1460.0,264.2 1461.3,222.9 1462.6,219.6 1463.9,255.9 1465.2,219.6 1466.5,256.9 1467.8,222.0 1469.1,253.8 1470.4,215.4 1471.7,258.8 1473.0,208.1 1474.3,278.6 1475.6,274.9 1476.9,242.0 1478.2,279.5 1479.5,231.4 1480.8,257.3 1482.1,283.4 1483.4,251.4 1484.7,289.9 1486.0,297.7 1487.3,252.6 1488.6,283.8 1489.9,255.9 1491.2,276.8 1492.5,239.3 1493.8,279.3 1495.1,241.6 1496.4,281.0 1497.7,238.8 1499.0,244.2 1500.3,290.5 1501.6,243.4 1502.9,294.3 1504.2,281.0 1505.5,246.3 1506.8,234.4 1508.1,284.1 1509.4,280.1 1510.7,252.1 1512.0,301.2 1513.3,223.2 1514.6,286.3 1515.9,245.9 1517.2,234.9 1518.5,300.4 1519.8,294.1 1521.1,253.6 1522.4,286.7 1523.7,261.7 1525.0,249.4 1526.3,290.8 1527.6,237.0 1528.9,299.2 1530.2,240.1 1531.5,293.8 1532.8,292.9 1534.1,254.2 1535.4,297.3 1536.7,253.8 1538.0,270.5 1539.3,236.7 1540.6,233.0 1541.9,277.3 1543.2,277.0 1544.5,243.3 1545.8,257.1 1547.1,286.9 1548.4,296.3 1549.7,247.3 1551.0,291.4 1552.3,242.5 1553.6,307.6 1554.9,258.6 1556.2,259.8 1557.5,287.8 1558.8,281.7 1560.1,252.7 1561.4,239.3 1562.7,281.0 1564.0,250.0 1565.3,279.4 1566.6,272.8 1567.9,239.5 1569.2,290.4 1570.5,213.1 1571.8,231.8 1573.1,274.2 1574.4,238.9 1575.7,273.2 1577.0,242.8 1578.3,298.2 1579.6,253.6 1580.9,302.8 1582.2,255.2 1583.5,284.4 1584.8,258.9 1586.1,296.2 1587.4,223.6 1588.7,283.3 1590.0,243.3 1591.3,277.0 1592.6,237.3 1593.9,276.9 1595.2,216.3 1596.5,279.0 1597.8,248.4 1599.1,281.4 1600.4,277.4 1601.7,239.0 1603.0,246.7 1604.3,276.1 1605.6,280.2 1606.9,235.2 1608.2,232.3 1609.5,283.2 1610.8,231.2 1612.1,271.4 1613.4,236.6 1614.7,278.2 1616.0,240.7 1617.3,273.5 1618.6,239.6 1619.9,273.4 1621.2,264.0 1622.5,231.0 1623.8,267.6 1625.1,232.2 1626.4,242.8 1627.7,271.9 1629.0,274.2 1630.3,244.6 1631.6,245.5 1632.9,276.4 1634.2,272.6 1635.5,238.8 1636.8,262.5 1638.1,219.4 1639.4,261.5 1640.7,211.9 1642.0,223.2 1643.3,278.6 1644.6,233.9 1645.9,260.3 1647.2,233.5 1648.5,263.6 1649.8,273.5 1651.1,244.4 1652.4,291.1 1653.7,229.9 1655.0,246.8 1656.3,282.3 1657.6,252.3 1658.9,286.3 1660.2,293.9 1661.5,242.1 1662.8,245.2 1664.1,284.9 1665.4,278.6 1666.7,234.1 1668.0,275.9 1669.3,216.9 1670.6,212.0 1671.9,270.1 1673.2,244.1 1674.5,274.1 1675.8,253.9 1677.1,283.1 1678.4,285.8 1679.7,247.8 1681.0,295.3 1682.3,254.5 1683.6,288.8 1684.9,249.6 1686.2,276.9 1687.5,234.1 1688.8,235.6 1690.1,298.3 1691.4,278.2 1692.7,231.8 1694.0,280.7 1695.3,232.5 1696.6,271.1 1697.9,236.2 1699.2,277.5 1700.5,243.3 1701.8,280.9 1703.1,252.7 1704.4,286.2 1705.7,254.5 1707.0,246.6 1708.3,276.8 1709.6,297.0 1710.9,249.6 1712.2,244.7 1713.5,288.9 1714.8,244.1 1716.1,276.5 1717.4,274.0 1718.7,227.4 1720.0,284.2 1721.3,237.4 1722.6,219.2 1723.9,274.7 1725.2,257.9 1726.5,284.7 1727.8,256.6 1729.1,290.3 1730.4,259.0 1731.7,287.8 1733.0,262.3 1734.3,302.7 1735.6,300.6 1736.9,247.3 1738.2,258.7 1739.5,295.1 1740.8,258.2 1742.1,304.6 1743.4,237.1 1744.7,280.2 1746.0,220.6 1747.3,257.7 1748.6,231.3 1749.9,256.8 1751.2,286.8 1752.5,224.3 1753.8,267.6 1755.1,239.9 1756.4,228.6 1757.7,258.7 1759.0,226.5 1760.3,258.0 1761.6,226.1 1762.9,271.9 1764.2,223.8 1765.5,269.9 1766.8,270.1 1768.1,243.8 1769.4,240.5 1770.7,278.5 1772.0,237.8 1773.3,264.9"/><polyline fill="none" stroke="#000000" stroke-width="5.5" stroke-linejoin="round" stroke-linecap="butt" points="270.0,600.0 281.0,460.0 287.0,420.0 290.0,300.0 292.0,274.0 295.0,274.0 299.0,295.0 302.0,320.9 303.3,317.1 304.6,344.7 305.9,347.4 307.2,371.8 308.5,366.2 309.8,388.9 311.1,395.1 312.4,400.2 313.7,396.7 315.0,398.7 316.3,402.5 317.6,403.1 318.9,398.9 320.2,400.0 321.5,403.1 322.8,399.1 324.1,403.6 325.4,399.7 326.7,404.3 328.0,398.9 329.3,402.7 330.6,405.0 331.9,399.2 333.2,400.3 334.5,403.9 335.8,400.5 337.1,403.3 338.4,401.2 339.7,404.3 341.0,401.0 342.3,404.9 343.6,402.2 344.9,405.7 346.2,405.9 347.5,401.7 348.8,406.5 350.1,402.0 351.4,408.4 352.7,403.7 354.0,405.4 355.3,408.6 356.6,404.9 357.9,409.5 359.2,408.1 360.5,410.7 361.8,413.3 363.1,406.8 364.4,406.8 365.7,411.9 367.0,407.0 368.3,413.5 369.6,412.4 370.9,408.1 372.2,413.2 373.5,409.7 374.8,413.6 376.1,407.4 377.4,409.0 378.7,416.0 380.0,418.1 381.3,413.9 382.6,416.5 383.9,419.4 385.2,420.4 386.5,425.4 387.8,421.6 389.1,427.9 390.4,426.9 391.7,423.1 393.0,421.6 394.3,425.3 395.6,419.6 396.9,424.4 398.2,421.0 399.5,415.0 400.8,420.2 402.1,424.3 403.4,422.3 404.7,426.2 406.0,423.2 407.3,426.7 408.6,429.0 409.9,424.4 411.2,425.7 412.5,431.1 413.8,429.0 415.1,432.6 416.4,431.2 417.7,436.6 419.0,441.2 420.3,435.7 421.6,441.2 422.9,445.6 424.2,452.0 425.5,447.1 426.8,457.4 428.1,451.5 429.4,459.7 430.7,456.1 432.0,462.8 433.3,456.7 434.6,461.5 435.9,464.8 437.2,466.7 438.5,461.9 439.8,461.1 441.1,485.0 442.4,461.7 443.7,467.8 445.0,461.2 446.3,466.2 447.6,466.7 448.9,463.2 450.2,460.6 451.5,467.0 452.8,467.1 454.1,462.8 455.4,468.1 456.7,463.7 458.0,470.0 459.3,465.0 460.6,465.8 461.9,469.6 463.2,465.0 464.5,469.8 465.8,465.8 467.1,469.2 468.4,464.7 469.7,469.9 471.0,471.1 472.3,465.9 473.6,463.5 474.9,469.6 476.2,468.2 477.5,464.3 478.8,466.9 480.1,460.1 481.4,463.3 482.7,467.3 484.0,467.5 485.3,463.1 486.6,462.8 487.9,466.8 489.2,467.2 490.5,462.8 491.8,463.2 493.1,468.6 494.4,467.6 495.7,460.9 497.0,465.9 498.3,462.1 499.6,465.0 500.9,459.7 502.2,461.5 503.5,465.2 504.8,462.6 506.1,466.7 507.4,468.2 508.7,464.7 510.0,470.8 511.3,466.0 512.6,467.3 513.9,471.4 515.2,471.2 516.5,466.4 517.8,473.1 519.1,465.9 520.4,471.5 521.7,475.6 523.0,477.3 524.3,473.8 525.6,478.5 526.9,474.8 528.2,476.2 529.5,481.9 530.8,482.7 532.1,478.8 533.4,484.7 534.7,479.1 536.0,480.3 537.3,485.2 538.6,476.4 539.9,488.5 541.2,475.0 542.5,486.3 543.8,488.9 545.1,447.0 546.4,487.8 547.7,479.5 549.0,479.6 550.3,485.6 551.6,479.6 552.9,487.3 554.2,480.9 555.5,488.7 556.8,489.6 558.1,483.7 559.4,491.5 560.7,485.2 562.0,495.2 563.3,455.0 564.6,487.4 565.9,494.7 567.2,489.1 568.5,496.0 569.8,490.8 571.1,501.0 572.4,491.5 573.7,500.1 575.0,502.3 576.3,483.4 577.6,481.1 578.9,496.8 580.2,489.7 581.5,480.7 582.8,488.6 584.1,478.8 585.4,473.9 586.7,488.3 588.0,468.4 589.3,480.4 590.6,474.0 591.9,464.1 593.2,461.8 594.5,474.0 595.8,457.1 597.1,477.8 598.4,460.5 599.7,471.6 601.0,458.2 602.3,471.6 603.6,456.6 604.9,466.4 606.2,465.4 607.5,446.0 608.8,445.8 610.1,460.8 611.4,449.4 612.7,462.7 614.0,445.8 615.3,462.3 616.6,456.0 617.9,444.2 619.2,444.3 620.5,454.2 621.8,447.7 623.1,460.0 624.4,462.7 625.7,449.4 627.0,449.0 628.3,459.4 629.6,460.4 630.9,442.2 632.2,448.3 633.5,459.2 634.8,448.1 636.1,460.4 637.4,450.2 638.7,468.2 640.0,449.8 641.3,464.4 642.6,466.0 643.9,454.4 645.2,452.8 646.5,469.5 647.8,458.2 649.1,470.8 650.4,470.7 651.7,458.1 653.0,466.8 654.3,456.7 655.6,468.1 656.9,449.1 658.2,452.9 659.5,470.4 660.8,452.4 662.1,465.7 663.4,468.0 664.7,454.7 666.0,458.9 667.3,470.7 668.6,462.0 669.9,472.4 671.2,476.6 672.5,459.4 673.8,458.8 675.1,474.1 676.4,457.1 677.7,471.6 679.0,471.6 680.3,456.7 681.6,475.0 682.9,456.5 684.2,457.3 685.5,468.5 686.8,459.3 688.1,470.3 689.4,468.7 690.7,454.0 692.0,473.2 693.3,452.5 694.6,458.1 695.9,471.2 697.2,458.0 698.5,470.1 699.8,473.0 701.1,459.2 702.4,459.6 703.7,473.2 705.0,475.5 706.3,458.1 707.6,475.5 708.9,458.2 710.2,471.1 711.5,461.1 712.8,471.2 714.1,460.5 715.4,458.9 716.7,472.0 718.0,456.2 719.3,471.4 720.6,469.9 721.9,457.7 723.2,453.1 724.5,468.1 725.8,468.5 727.1,454.3 728.4,456.5 729.7,468.5 731.0,449.0 732.3,472.0 733.6,470.9 734.9,460.0 736.2,469.0 737.5,452.5 738.8,451.9 740.1,464.8 741.4,450.1 742.7,462.0 744.0,460.2 745.3,444.6 746.6,444.0 747.9,459.8 749.2,449.4 750.5,464.8 751.8,459.1 753.1,447.6 754.4,448.3 755.7,461.2 757.0,463.4 758.3,448.1 759.6,449.3 760.9,459.2 762.2,448.8 763.5,458.6 764.8,451.6 766.1,461.9 767.4,443.0 768.7,462.8 770.0,463.4 771.3,453.2 772.6,461.1 773.9,449.8 775.2,451.9 776.5,464.4 777.8,454.9 779.1,466.5 780.4,453.9 781.7,465.8 783.0,466.3 784.3,452.4 785.6,454.4 786.9,465.3 788.2,454.2 789.5,466.7 790.8,467.1 792.1,450.4 793.4,453.3 794.7,466.2 796.0,452.6 797.3,468.0 798.6,470.3 799.9,460.8 801.2,469.6 802.5,457.0 803.8,451.7 805.1,466.1 806.4,451.3 807.7,466.2 809.0,450.8 810.3,463.8 811.6,468.2 812.9,448.6 814.2,467.4 815.5,453.3 816.8,463.9 818.1,452.1 819.4,449.0 820.7,461.5 822.0,464.3 823.3,454.1 824.6,455.0 825.9,466.6 827.2,466.3 828.5,451.7 829.8,451.7 831.1,461.5 832.4,461.4 833.7,447.0 835.0,459.6 836.3,445.9 837.6,447.8 838.9,466.1 840.2,464.1 841.5,451.3 842.8,459.6 844.1,440.6 845.4,459.7 846.7,442.7 848.0,461.7 849.3,444.1 850.6,444.0 851.9,458.4 853.2,447.1 854.5,458.6 855.8,444.7 857.1,463.2 858.4,446.3 859.7,458.1 861.0,444.3 862.3,456.1 863.6,455.6 864.9,442.7 866.2,441.5 867.5,454.7 868.8,440.5 870.1,454.0 871.4,460.2 872.7,442.4 874.0,452.2 875.3,441.5 876.6,437.3 877.9,453.3 879.2,429.2 880.5,450.4 881.8,450.0 883.1,437.8 884.4,436.6 885.7,452.8 887.0,433.8 888.3,446.4 889.6,447.4 890.9,435.9 892.2,449.5 893.5,439.1 894.8,453.4 896.1,432.6 897.4,436.9 898.7,455.1 900.0,452.3 901.3,440.8 902.6,437.4 903.9,451.2 905.2,448.3 906.5,438.2 907.8,451.2 909.1,425.6 910.4,453.6 911.7,436.5 913.0,447.5 914.3,429.3 915.6,448.2 916.9,434.5 918.2,434.0 919.5,448.6 920.8,445.1 922.1,434.5 923.4,426.2 924.7,447.1 926.0,446.1 927.3,424.0 928.6,446.3 929.9,434.5 931.2,447.2 932.5,433.7 933.8,447.8 935.1,434.1 936.4,451.0 937.7,436.6 939.0,432.7 940.3,444.9 941.6,443.9 942.9,434.1 944.2,429.6 945.5,452.5 946.8,436.3 948.1,453.4 949.4,449.4 950.7,431.9 952.0,427.4 953.3,445.6 954.6,434.3 955.9,446.8 957.2,428.0 958.5,446.8 959.8,445.1 961.1,433.0 962.4,445.4 963.7,432.0 965.0,444.4 966.3,432.1 967.6,446.0 968.9,430.3 970.2,431.1 971.5,444.7 972.8,432.7 974.1,446.2 975.4,431.9 976.7,442.8 978.0,442.7 979.3,421.4 980.6,431.7 981.9,441.4 983.2,443.2 984.5,428.8 985.8,445.7 987.1,428.3 988.4,447.4 989.7,433.4 991.0,451.5 992.3,431.4 993.6,444.8 994.9,434.1 996.2,431.4 997.5,449.0 998.8,433.5 1000.1,444.1 1001.4,431.3 1002.7,447.0 1004.0,428.7 1005.3,439.2 1006.6,425.5 1007.9,444.8 1009.2,425.9 1010.5,440.2 1011.8,444.4 1013.1,428.9 1014.4,444.5 1015.7,424.2 1017.0,429.7 1018.3,441.5 1019.6,429.0 1020.9,443.7 1022.2,430.7 1023.5,443.1 1024.8,429.5 1026.1,441.3 1027.4,433.4 1028.7,444.1 1030.0,426.8 1031.3,445.7 1032.6,444.3 1033.9,428.0 1035.2,427.0 1036.5,443.5 1037.8,442.3 1039.1,422.3 1040.4,446.0 1041.7,423.4 1043.0,442.3 1044.3,420.1 1045.6,438.9 1046.9,427.7 1048.2,424.9 1049.5,437.3 1050.8,435.6 1052.1,420.4 1053.4,425.9 1054.7,439.3 1056.0,415.9 1057.3,437.6 1058.6,446.0 1059.9,424.6 1061.2,440.6 1062.5,425.2 1063.8,425.4 1065.1,437.4 1066.4,424.7 1067.7,435.5 1069.0,422.6 1070.3,433.8 1071.6,415.1 1072.9,433.4 1074.2,426.3 1075.5,436.6 1076.8,441.3 1078.1,423.5 1079.4,422.3 1080.7,439.1 1082.0,438.9 1083.3,420.6 1084.6,422.1 1085.9,435.5 1087.2,421.2 1088.5,435.5 1089.8,437.4 1091.1,422.4 1092.4,421.4 1093.7,443.4 1095.0,439.7 1096.3,428.5 1097.6,429.0 1098.9,441.4 1100.2,425.2 1101.5,441.9 1102.8,443.6 1104.1,422.6 1105.4,445.0 1106.7,427.1 1108.0,450.3 1109.3,427.9 1110.6,443.0 1111.9,425.4 1113.2,440.5 1114.5,428.9 1115.8,427.2 1117.1,437.8 1118.4,427.8 1119.7,441.9 1121.0,427.2 1122.3,438.1 1123.6,423.6 1124.9,441.3 1126.2,443.5 1127.5,425.6 1128.8,439.5 1130.1,420.1 1131.4,436.5 1132.7,420.7 1134.0,435.9 1135.3,421.4 1136.6,421.9 1137.9,432.9 1139.2,430.7 1140.5,419.7 1141.8,421.3 1143.1,431.9 1144.4,433.3 1145.7,421.7 1147.0,430.3 1148.3,418.5 1149.6,407.3 1150.9,430.6 1152.2,429.3 1153.5,418.5 1154.8,430.5 1156.1,414.9 1157.4,438.2 1158.7,419.4 1160.0,409.3 1161.3,430.6 1162.6,431.9 1163.9,412.2 1165.2,429.6 1166.5,414.6 1167.8,412.6 1169.1,431.0 1170.4,413.4 1171.7,428.8 1173.0,413.7 1174.3,426.4 1175.6,429.9 1176.9,412.6 1178.2,410.1 1179.5,426.4 1180.8,421.1 1182.1,407.0 1183.4,410.2 1184.7,423.5 1186.0,409.0 1187.3,423.5 1188.6,408.5 1189.9,422.3 1191.2,422.7 1192.5,409.2 1193.8,421.9 1195.1,399.3 1196.4,424.2 1197.7,412.1 1199.0,413.3 1200.3,425.5 1201.6,409.8 1202.9,424.4 1204.2,423.5 1205.5,410.3 1206.8,428.9 1208.1,406.6 1209.4,427.6 1210.7,412.6 1212.0,426.1 1213.3,406.1 1214.6,404.6 1215.9,423.8 1217.2,406.4 1218.5,421.2 1219.8,407.5 1221.1,422.7 1222.4,416.6 1223.7,406.1 1225.0,422.2 1226.3,404.8 1227.6,421.2 1228.9,397.0 1230.2,413.8 1231.5,402.2 1232.8,403.6 1234.1,415.6 1235.4,415.4 1236.7,399.7 1238.0,402.8 1239.3,421.5 1240.6,415.8 1241.9,403.2 1243.2,399.3 1244.5,415.1 1245.8,412.6 1247.1,396.4 1248.4,394.9 1249.7,419.9 1251.0,403.0 1252.3,416.7 1253.6,399.2 1254.9,415.8 1256.2,411.5 1257.5,397.9 1258.8,396.4 1260.1,413.0 1261.4,415.8 1262.7,393.1 1264.0,398.6 1265.3,412.6 1266.6,405.7 1267.9,393.4 1269.2,409.3 1270.5,388.9 1271.8,393.5 1273.1,406.1 1274.4,402.0 1275.7,387.2 1277.0,402.3 1278.3,390.5 1279.6,389.7 1280.9,404.9 1282.2,392.9 1283.5,410.9 1284.8,406.3 1286.1,393.4 1287.4,405.5 1288.7,395.1 1290.0,394.0 1291.3,407.6 1292.6,413.7 1293.9,386.2 1295.2,411.6 1296.5,384.3 1297.8,401.9 1299.1,388.7 1300.4,400.0 1301.7,379.9 1303.0,399.9 1304.3,386.0 1305.6,400.4 1306.9,389.8 1308.2,401.2 1309.5,388.7 1310.8,377.0 1312.1,399.6 1313.4,384.1 1314.7,401.3 1316.0,378.8 1317.3,399.5 1318.6,382.4 1319.9,398.9 1321.2,386.2 1322.5,398.1 1323.8,380.2 1325.1,400.0 1326.4,383.0 1327.7,399.0 1329.0,384.9 1330.3,398.8 1331.6,384.9 1332.9,399.9 1334.2,389.1 1335.5,404.3 1336.8,401.0 1338.1,388.6 1339.4,401.2 1340.7,389.6 1342.0,405.5 1343.3,387.7 1344.6,400.8 1345.9,383.3 1347.2,399.3 1348.5,388.5 1349.8,404.9 1351.1,388.2 1352.4,385.8 1353.7,399.8 1355.0,402.9 1356.3,387.8 1357.6,386.8 1358.9,402.5 1360.2,390.4 1361.5,403.9 1362.8,401.3 1364.1,387.2 1365.4,360.0 1366.7,396.8 1368.0,397.9 1369.3,378.6 1370.6,398.0 1371.9,386.4 1373.2,386.9 1374.5,398.1 1375.8,384.1 1377.1,397.8 1378.4,401.4 1379.7,382.0 1381.0,385.8 1382.3,400.0 1383.6,397.2 1384.9,373.8 1386.2,397.6 1387.5,378.5 1388.8,398.4 1390.1,384.2 1391.4,384.3 1392.7,404.7 1394.0,397.2 1395.3,382.7 1396.6,386.8 1397.9,399.7 1399.2,405.9 1400.5,388.8 1401.8,403.8 1403.1,389.8 1404.4,386.6 1405.7,401.4 1407.0,387.9 1408.3,400.8 1409.6,387.3 1410.9,399.1 1412.2,379.5 1413.5,400.9 1414.8,386.9 1416.1,398.7 1417.4,387.8 1418.7,402.9 1420.0,403.1 1421.3,384.6 1422.6,404.3 1423.9,383.5 1425.2,409.5 1426.5,383.1 1427.8,404.3 1429.1,387.4 1430.4,397.3 1431.7,373.0 1433.0,377.8 1434.3,394.3 1435.6,380.5 1436.9,399.3 1438.2,371.9 1439.5,398.7 1440.8,381.6 1442.1,395.3 1443.4,396.2 1444.7,382.0 1446.0,398.3 1447.3,387.2 1448.6,382.5 1449.9,402.3 1451.2,404.6 1452.5,390.8 1453.8,394.2 1455.1,406.6 1456.4,381.8 1457.7,404.7 1459.0,405.8 1460.3,379.5 1461.6,386.4 1462.9,402.0 1464.2,402.6 1465.5,378.8 1466.8,393.6 1468.1,405.2 1469.4,393.5 1470.7,406.8 1472.0,390.1 1473.3,409.3 1474.6,379.7 1475.9,406.4 1477.2,403.3 1478.5,390.8 1479.8,384.5 1481.1,402.2 1482.4,387.6 1483.7,407.0 1485.0,401.8 1486.3,390.2 1487.6,380.6 1488.9,411.0 1490.2,409.2 1491.5,393.8 1492.8,379.5 1494.1,404.0 1495.4,402.4 1496.7,391.1 1498.0,401.9 1499.3,383.1 1500.6,397.4 1501.9,384.8 1503.2,383.8 1504.5,399.6 1505.8,379.6 1507.1,394.2 1508.4,393.8 1509.7,379.3 1511.0,369.9 1512.3,393.2 1513.6,394.8 1514.9,383.0 1516.2,383.9 1517.5,398.5 1518.8,397.0 1520.1,378.6 1521.4,400.1 1522.7,382.4 1524.0,384.4 1525.3,398.5 1526.6,401.4 1527.9,379.7 1529.2,391.6 1530.5,378.7 1531.8,373.9 1533.1,393.3 1534.4,377.9 1535.7,401.7 1537.0,381.3 1538.3,397.8 1539.6,375.4 1540.9,398.3 1542.2,404.8 1543.5,385.0 1544.8,381.7 1546.1,400.3 1547.4,382.6 1548.7,399.9 1550.0,383.6 1551.3,400.8 1552.6,404.4 1553.9,384.4 1555.2,385.5 1556.5,401.8 1557.8,384.5 1559.1,400.6 1560.4,378.8 1561.7,402.5 1563.0,390.2 1564.3,403.5 1565.6,390.5 1566.9,403.5 1568.2,386.8 1569.5,404.8 1570.8,384.7 1572.1,406.3 1573.4,379.8 1574.7,399.3 1576.0,404.9 1577.3,373.7 1578.6,400.1 1579.9,386.3 1581.2,399.0 1582.5,387.6 1583.8,398.5 1585.1,378.4 1586.4,395.3 1587.7,383.6 1589.0,374.0 1590.3,397.0 1591.6,382.3 1592.9,402.4 1594.2,394.6 1595.5,377.7 1596.8,378.6 1598.1,394.0 1599.4,382.0 1600.7,400.2 1602.0,384.0 1603.3,395.6 1604.6,398.4 1605.9,381.9 1607.2,397.0 1608.5,377.9 1609.8,373.7 1611.1,395.5 1612.4,371.8 1613.7,393.3 1615.0,380.7 1616.3,396.7 1617.6,383.4 1618.9,397.0 1620.2,380.1 1621.5,398.0 1622.8,399.3 1624.1,384.4 1625.4,398.3 1626.7,374.5 1628.0,392.5 1629.3,378.5 1630.6,397.0 1631.9,378.4 1633.2,378.6 1634.5,396.5 1635.8,395.0 1637.1,375.6 1638.4,378.3 1639.7,389.5 1641.0,391.5 1642.3,379.3 1643.6,381.5 1644.9,394.6 1646.2,382.1 1647.5,392.9 1648.8,393.6 1650.1,377.4 1651.4,379.1 1652.7,396.2 1654.0,381.4 1655.3,393.8 1656.6,379.1 1657.9,398.8 1659.2,381.5 1660.5,394.2 1661.8,398.8 1663.1,375.4 1664.4,387.3 1665.7,403.7 1667.0,396.9 1668.3,380.9 1669.6,394.9 1670.9,383.1 1672.2,382.2 1673.5,396.7 1674.8,378.9 1676.1,392.9 1677.4,391.5 1678.7,370.4 1680.0,390.5 1681.3,379.7 1682.6,374.9 1683.9,393.9 1685.2,382.3 1686.5,395.9 1687.8,379.0 1689.1,399.1 1690.4,396.1 1691.7,382.4 1693.0,394.7 1694.3,381.6 1695.6,382.4 1696.9,396.3 1698.2,399.2 1699.5,374.5 1700.8,382.5 1702.1,400.2 1703.4,395.6 1704.7,379.7 1706.0,378.1 1707.3,403.2 1708.6,398.0 1709.9,369.1 1711.2,376.4 1712.5,397.6 1713.8,393.3 1715.1,379.4 1716.4,374.6 1717.7,393.4 1719.0,375.3 1720.3,394.9 1721.6,400.9 1722.9,373.0 1724.2,372.6 1725.5,389.6 1726.8,369.2 1728.1,394.6 1729.4,397.3 1730.7,379.1 1732.0,376.3 1733.3,388.7 1734.6,385.9 1735.9,369.6 1737.2,387.4 1738.5,370.2 1739.8,392.2 1741.1,371.8 1742.4,392.5 1743.7,379.7 1745.0,394.3 1746.3,374.4 1747.6,378.2 1748.9,394.3 1750.2,391.1 1751.5,371.9 1752.8,389.8 1754.1,374.7 1755.4,374.7 1756.7,387.0 1758.0,392.4 1759.3,372.8 1760.6,389.7 1761.9,375.0 1763.2,377.2 1764.5,394.7 1765.8,369.5 1767.1,388.4 1768.4,370.7 1769.7,388.4 1771.0,365.5 1772.3,395.3"/><polyline fill="none" stroke="#ff8000" stroke-width="5.5" stroke-linejoin="round" stroke-linecap="butt" points="271.0,1020.0 272.0,800.0 273.0,648.0 275.0,700.0 277.0,750.0 279.0,690.0 282.0,650.0 283.0,646.8 284.3,637.9 285.6,626.5 286.9,636.2 288.2,619.8 289.5,629.3 290.8,608.8 292.1,628.7 293.4,625.7 294.7,604.2 296.0,623.0 297.3,608.1 298.6,625.0 299.9,604.7 301.2,595.9 302.5,618.3 303.8,610.5 305.1,623.0 306.4,625.5 307.7,610.8 309.0,630.1 310.3,605.7 311.6,608.6 312.9,617.6 314.2,593.7 315.5,617.6 316.8,604.6 318.1,621.9 319.4,602.9 320.7,613.3 322.0,622.2 323.3,603.7 324.6,613.6 325.9,596.2 327.2,616.2 328.5,600.0 329.8,613.9 331.1,600.1 332.4,604.2 333.7,613.7 335.0,615.8 336.3,603.0 337.6,592.6 338.9,615.2 340.2,597.2 341.5,612.4 342.8,599.0 344.1,608.5 345.4,597.9 346.7,608.5 348.0,596.9 349.3,605.5 350.6,606.5 351.9,591.9 353.2,589.9 354.5,604.5 355.8,590.0 357.1,600.2 358.4,605.5 359.7,588.1 361.0,585.4 362.3,598.8 363.6,598.4 364.9,582.3 366.2,588.1 367.5,602.3 368.8,585.3 370.1,595.4 371.4,580.9 372.7,598.8 374.0,575.0 375.3,588.8 376.6,587.2 377.9,561.8 379.2,570.0 380.5,580.7 381.8,581.6 383.1,569.1 384.4,578.9 385.7,558.9 387.0,578.9 388.3,569.4 389.6,568.4 390.9,584.5 392.2,556.8 393.5,585.2 394.8,573.6 396.1,563.5 397.4,565.6 398.7,578.0 400.0,568.3 401.3,579.5 402.6,585.2 403.9,568.5 405.2,566.5 406.5,583.1 407.8,584.5 409.1,565.8 410.4,577.3 411.7,566.8 413.0,584.0 414.3,562.6 415.6,572.0 416.9,552.8 418.2,555.4 419.5,578.5 420.8,559.6 422.1,569.1 423.4,573.0 424.7,550.3 426.0,566.6 427.3,545.4 428.6,562.6 429.9,552.2 431.2,559.7 432.5,549.7 433.8,562.6 435.1,551.1 436.4,539.9 437.7,563.4 439.0,545.2 440.3,568.2 441.6,564.1 442.9,538.8 444.2,556.6 445.5,547.2 446.8,561.1 448.1,544.5 449.4,556.6 450.7,538.2 452.0,533.1 453.3,559.3 454.6,543.2 455.9,561.3 457.2,557.8 458.5,532.2 459.8,538.6 461.1,560.3 462.4,543.7 463.7,557.7 465.0,547.3 466.3,557.7 467.6,546.2 468.9,568.0 470.2,557.5 471.5,541.7 472.8,557.5 474.1,535.4 475.4,539.2 476.7,551.0 478.0,560.7 479.3,537.5 480.6,536.0 481.9,560.0 483.2,545.3 484.5,534.3 485.8,532.5 487.1,543.1 488.4,547.0 489.7,528.4 491.0,529.1 492.3,560.7 493.6,550.8 494.9,540.3 496.2,536.8 497.5,551.9 498.8,548.9 500.1,539.2 501.4,550.2 502.7,536.2 504.0,526.6 505.3,546.5 506.6,533.4 507.9,543.6 509.2,536.6 510.5,547.6 511.8,529.2 513.1,564.5 514.4,553.1 515.7,537.2 517.0,560.0 518.3,538.7 519.6,536.3 520.9,553.2 522.2,539.7 523.5,552.8 524.8,530.0 526.1,561.7 527.4,558.0 528.7,536.3 530.0,545.1 531.3,531.9 532.6,555.8 533.9,529.6 535.2,535.0 536.5,556.0 537.8,548.3 539.1,536.3 540.4,523.4 541.7,546.8 543.0,521.9 544.3,543.9 545.6,544.5 546.9,534.0 548.2,545.1 549.5,536.0 550.8,558.6 552.1,532.1 553.4,549.2 554.7,535.1 556.0,550.0 557.3,526.5 558.6,532.8 559.9,548.7 561.2,527.3 562.5,550.3 563.8,535.2 565.1,556.8 566.4,552.5 567.7,529.2 569.0,536.7 570.3,554.7 571.6,528.3 572.9,545.0 574.2,538.8 575.5,525.8 576.8,527.9 578.1,539.0 579.4,527.2 580.7,542.8 582.0,540.6 583.3,527.6 584.6,514.1 585.9,541.3 587.2,527.1 588.5,542.1 589.8,548.2 591.1,528.4 592.4,524.3 593.7,546.1 595.0,534.8 596.3,520.4 597.6,545.3 598.9,521.0 600.2,513.0 601.5,540.8 602.8,543.5 604.1,518.9 605.4,514.1 606.7,546.8 608.0,539.8 609.3,525.1 610.6,520.6 611.9,534.6 613.2,537.2 614.5,518.8 615.8,516.2 617.1,536.3 618.4,540.1 619.7,525.9 621.0,521.7 622.3,537.6 623.6,522.5 624.9,538.8 626.2,535.1 627.5,520.2 628.8,519.2 630.1,533.3 631.4,515.1 632.7,540.0 634.0,536.5 635.3,525.0 636.6,533.1 637.9,519.4 639.2,535.9 640.5,518.8 641.8,530.9 643.1,517.2 644.4,515.8 645.7,530.5 647.0,516.4 648.3,541.3 649.6,540.0 650.9,508.4 652.2,534.5 653.5,525.0 654.8,536.2 656.1,518.7 657.4,517.4 658.7,527.5 660.0,527.2 661.3,510.4 662.6,517.6 663.9,530.0 665.2,515.0 666.5,532.7 667.8,535.8 669.1,509.4 670.4,533.6 671.7,509.3 673.0,520.4 674.3,535.5 675.6,536.6 676.9,521.3 678.2,543.8 679.5,516.7 680.8,530.8 682.1,506.7 683.4,514.7 684.7,532.2 686.0,515.7 687.3,535.5 688.6,518.6 689.9,530.0 691.2,512.4 692.5,527.1 693.8,516.8 695.1,527.2 696.4,519.1 697.7,535.6 699.0,519.8 700.3,533.6 701.6,502.5 702.9,533.3 704.2,513.1 705.5,526.4 706.8,514.0 708.1,534.3 709.4,531.3 710.7,508.3 712.0,526.3 713.3,516.3 714.6,523.7 715.9,512.9 717.2,514.8 718.5,538.4 719.8,530.2 721.1,515.4 722.4,516.8 723.7,533.4 725.0,521.4 726.3,533.4 727.6,516.0 728.9,537.0 730.2,518.5 731.5,530.8 732.8,516.5 734.1,531.3 735.4,535.5 736.7,516.3 738.0,511.4 739.3,535.2 740.6,527.4 741.9,517.0 743.2,508.5 744.5,530.8 745.8,534.4 747.1,517.4 748.4,538.5 749.7,515.0 751.0,540.5 752.3,521.6 753.6,520.4 754.9,533.0 756.2,529.2 757.5,514.0 758.8,522.4 760.1,504.3 761.4,504.9 762.7,523.9 764.0,510.7 765.3,530.8 766.6,499.7 767.9,525.2 769.2,528.3 770.5,508.4 771.8,530.4 773.1,504.0 774.4,513.3 775.7,530.7 777.0,506.7 778.3,522.5 779.6,527.4 780.9,507.7 782.2,506.8 783.5,533.5 784.8,519.3 786.1,507.0 787.4,518.7 788.7,505.7 790.0,518.4 791.3,506.2 792.6,506.6 793.9,520.1 795.2,532.1 796.5,499.5 797.8,504.3 799.1,520.0 800.4,521.8 801.7,508.6 803.0,509.5 804.3,523.7 805.6,507.4 806.9,519.5 808.2,504.3 809.5,519.1 810.8,513.7 812.1,490.2 813.4,511.9 814.7,499.6 816.0,511.6 817.3,499.1 818.6,495.1 819.9,514.1 821.2,493.1 822.5,507.2 823.8,511.1 825.1,492.6 826.4,491.6 827.7,502.8 829.0,503.9 830.3,487.3 831.6,498.3 832.9,473.3 834.2,497.9 835.5,482.9 836.8,512.9 838.1,477.7 839.4,484.5 840.7,499.1 842.0,480.4 843.3,515.6 844.6,486.3 845.9,501.7 847.2,498.0 848.5,487.0 849.8,475.8 851.1,496.5 852.4,497.2 853.7,481.9 855.0,481.8 856.3,493.5 857.6,500.4 858.9,467.4 860.2,496.9 861.5,482.9 862.8,501.3 864.1,473.9 865.4,515.1 866.7,479.5 868.0,493.7 869.3,478.4 870.6,474.5 871.9,502.3 873.2,497.6 874.5,475.2 875.8,495.7 877.1,480.8 878.4,495.6 879.7,473.9 881.0,506.8 882.3,476.9 883.6,479.2 884.9,491.2 886.2,503.9 887.5,483.1 888.8,502.9 890.1,487.5 891.4,474.0 892.7,504.4 894.0,512.6 895.3,491.4 896.6,507.3 897.9,493.4 899.2,484.9 900.5,513.6 901.8,508.5 903.1,485.6 904.4,484.7 905.7,503.4 907.0,483.8 908.3,497.7 909.6,496.0 910.9,483.5 912.2,476.5 913.5,495.8 914.8,479.3 916.1,508.5 917.4,475.2 918.7,486.3 920.0,463.1 921.3,489.7 922.6,492.8 923.9,475.2 925.2,475.1 926.5,487.6 927.8,481.8 929.1,452.8 930.4,457.1 931.7,489.3 933.0,446.6 934.3,485.2 935.6,470.0 936.9,456.0 938.2,469.0 939.5,450.6 940.8,450.9 942.1,467.9 943.4,452.4 944.7,466.5 946.0,452.0 947.3,468.4 948.6,467.4 949.9,438.7 951.2,444.2 952.5,474.2 953.8,474.7 955.1,448.6 956.4,461.1 957.7,484.0 959.0,473.0 960.3,458.2 961.6,454.9 962.9,484.2 964.2,452.3 965.5,483.2 966.8,448.9 968.1,477.5 969.4,453.1 970.7,478.7 972.0,467.4 973.3,451.3 974.6,465.7 975.9,443.4 977.2,466.1 978.5,446.2 979.8,465.4 981.1,445.0 982.4,434.9 983.7,461.9 985.0,460.9 986.3,441.1 987.6,458.4 988.9,437.2 990.2,437.1 991.5,461.4 992.8,451.0 994.1,465.1 995.4,435.0 996.7,460.5 998.0,443.6 999.3,474.5 1000.6,452.2 1001.9,472.9 1003.2,467.3 1004.5,453.9 1005.8,446.5 1007.1,465.5 1008.4,468.8 1009.7,429.2 1011.0,446.5 1012.3,461.8 1013.6,445.4 1014.9,461.3 1016.2,444.4 1017.5,466.7 1018.8,467.0 1020.1,430.8 1021.4,477.4 1022.7,433.8 1024.0,469.3 1025.3,451.4 1026.6,442.7 1027.9,468.6 1029.2,438.3 1030.5,470.3 1031.8,460.1 1033.1,448.2 1034.4,444.4 1035.7,466.8 1037.0,432.5 1038.3,456.0 1039.6,462.2 1040.9,429.1 1042.2,443.1 1043.5,468.7 1044.8,469.1 1046.1,446.1 1047.4,451.0 1048.7,462.2 1050.0,449.3 1051.3,465.0 1052.6,443.0 1053.9,466.5 1055.2,458.4 1056.5,445.8 1057.8,464.8 1059.1,433.5 1060.4,435.3 1061.7,503.0 1063.0,441.4 1064.3,457.9 1065.6,459.5 1066.9,438.5 1068.2,452.2 1069.5,436.9 1070.8,442.3 1072.1,456.5 1073.4,428.9 1074.7,452.4 1076.0,458.9 1077.3,422.0 1078.6,459.3 1079.9,438.2 1081.2,446.7 1082.5,461.8 1083.8,525.0 1085.1,448.2 1086.4,471.3 1087.7,454.0 1089.0,469.1 1090.3,439.8 1091.6,450.0 1092.9,467.0 1094.2,448.0 1095.5,465.9 1096.8,469.5 1098.1,445.9 1099.4,437.0 1100.7,476.1 1102.0,464.4 1103.3,450.8 1104.6,446.2 1105.9,512.0 1107.2,456.1 1108.5,432.6 1109.8,453.2 1111.1,440.5 1112.4,464.5 1113.7,436.6 1115.0,437.8 1116.3,463.8 1117.6,458.6 1118.9,433.0 1120.2,428.1 1121.5,451.9 1122.8,435.6 1124.1,453.5 1125.4,453.0 1126.7,430.8 1128.0,462.7 1129.3,436.5 1130.6,455.6 1131.9,430.4 1133.2,445.0 1134.5,459.2 1135.8,480.2 1137.1,439.4 1138.4,471.4 1139.7,455.3 1141.0,468.3 1142.3,446.1 1143.6,461.4 1144.9,441.6 1146.2,448.9 1147.5,468.4 1148.8,441.3 1150.1,466.9 1151.4,439.4 1152.7,461.0 1154.0,463.5 1155.3,435.9 1156.6,429.4 1157.9,442.8 1159.2,419.0 1160.5,450.2 1161.8,447.6 1163.1,421.3 1164.4,450.6 1165.7,438.9 1167.0,441.4 1168.3,456.2 1169.6,457.6 1170.9,429.7 1172.2,437.9 1173.5,465.7 1174.8,429.6 1176.1,461.6 1177.4,451.5 1178.7,435.7 1180.0,436.4 1181.3,457.3 1182.6,441.7 1183.9,469.0 1185.2,458.9 1186.5,444.5 1187.8,457.2 1189.1,435.5 1190.4,458.0 1191.7,440.5 1193.0,424.6 1194.3,467.9 1195.6,432.2 1196.9,457.1 1198.2,428.8 1199.5,448.0 1200.8,421.6 1202.1,448.7 1203.4,437.5 1204.7,419.2 1206.0,421.6 1207.3,439.6 1208.6,419.9 1209.9,435.8 1211.2,445.9 1212.5,424.1 1213.8,432.3 1215.1,453.7 1216.4,439.3 1217.7,458.1 1219.0,443.2 1220.3,506.0 1221.6,457.0 1222.9,442.5 1224.2,421.8 1225.5,452.9 1226.8,418.9 1228.1,447.0 1229.4,425.3 1230.7,454.4 1232.0,445.7 1233.3,433.0 1234.6,433.8 1235.9,466.3 1237.2,425.5 1238.5,445.6 1239.8,410.3 1241.1,442.7 1242.4,426.7 1243.7,441.7 1245.0,430.4 1246.3,445.8 1247.6,413.3 1248.9,443.4 1250.2,458.5 1251.5,425.2 1252.8,422.5 1254.1,465.2 1255.4,437.6 1256.7,452.3 1258.0,429.4 1259.3,451.3 1260.6,437.8 1261.9,457.1 1263.2,458.3 1264.5,436.2 1265.8,426.4 1267.1,461.4 1268.4,430.2 1269.7,453.4 1271.0,435.1 1272.3,454.1 1273.6,438.3 1274.9,451.0 1276.2,437.6 1277.5,453.6 1278.8,439.9 1280.1,453.0 1281.4,440.1 1282.7,456.8 1284.0,433.5 1285.3,455.7 1286.6,440.0 1287.9,458.2 1289.2,420.5 1290.5,456.4 1291.8,428.7 1293.1,449.7 1294.4,410.7 1295.7,449.1 1297.0,431.2 1298.3,451.7 1299.6,467.6 1300.9,435.0 1302.2,449.6 1303.5,430.8 1304.8,432.1 1306.1,457.3 1307.4,451.7 1308.7,432.0 1310.0,420.3 1311.3,445.4 1312.6,430.2 1313.9,452.5 1315.2,451.1 1316.5,430.4 1317.8,449.5 1319.1,436.8 1320.4,369.0 1321.7,445.4 1323.0,425.7 1324.3,443.2 1325.6,429.0 1326.9,453.2 1328.2,459.1 1329.5,432.6 1330.8,444.8 1332.1,426.6 1333.4,431.7 1334.7,452.8 1336.0,468.2 1337.3,433.8 1338.6,460.4 1339.9,433.2 1341.2,440.4 1342.5,472.1 1343.8,438.5 1345.1,463.7 1346.4,430.4 1347.7,453.1 1349.0,433.3 1350.3,450.6 1351.6,451.3 1352.9,427.1 1354.2,419.0 1355.5,449.4 1356.8,443.7 1358.1,420.1 1359.4,428.1 1360.7,447.2 1362.0,423.4 1363.3,441.4 1364.6,435.0 1365.9,417.9 1367.2,421.7 1368.5,441.8 1369.8,421.7 1371.1,446.7 1372.4,447.4 1373.7,380.0 1375.0,450.6 1376.3,429.0 1377.6,431.7 1378.9,445.7 1380.2,461.4 1381.5,428.4 1382.8,452.8 1384.1,427.3 1385.4,456.6 1386.7,423.9 1388.0,454.7 1389.3,435.6 1390.6,455.3 1391.9,433.4 1393.2,452.5 1394.5,431.1 1395.8,434.7 1397.1,453.3 1398.4,452.0 1399.7,425.2 1401.0,447.4 1402.3,424.8 1403.6,417.2 1404.9,442.5 1406.2,440.9 1407.5,422.3 1408.8,454.6 1410.1,419.4 1411.4,424.8 1412.7,445.1 1414.0,426.3 1415.3,455.8 1416.6,429.0 1417.9,446.2 1419.2,444.8 1420.5,428.7 1421.8,425.0 1423.1,442.8 1424.4,429.8 1425.7,442.9 1427.0,446.1 1428.3,426.6 1429.6,438.0 1430.9,414.0 1432.2,442.0 1433.5,421.9 1434.8,402.3 1436.1,439.7 1437.4,424.9 1438.7,439.7 1440.0,423.6 1441.3,438.0 1442.6,443.9 1443.9,422.4 1445.2,446.4 1446.5,424.9 1447.8,443.6 1449.1,426.8 1450.4,427.7 1451.7,456.1 1453.0,451.1 1454.3,436.0 1455.6,450.3 1456.9,429.8 1458.2,425.2 1459.5,463.4 1460.8,425.1 1462.1,453.2 1463.4,465.4 1464.7,434.2 1466.0,437.0 1467.3,450.3 1468.6,433.2 1469.9,450.3 1471.2,428.8 1472.5,448.5 1473.8,428.8 1475.1,441.8 1476.4,439.8 1477.7,425.6 1479.0,424.5 1480.3,450.1 1481.6,446.7 1482.9,423.4 1484.2,421.7 1485.5,456.3 1486.8,426.3 1488.1,447.0 1489.4,443.3 1490.7,427.6 1492.0,443.7 1493.3,424.7 1494.6,444.2 1495.9,428.8 1497.2,450.2 1498.5,437.4 1499.8,438.4 1501.1,459.0 1502.4,444.8 1503.7,434.5 1505.0,445.9 1506.3,425.6 1507.6,419.6 1508.9,409.7 1510.2,400.4 1511.5,390.4 1512.8,356.3 1514.1,373.6 1515.4,301.0 1516.7,311.0 1518.0,313.5 1519.3,299.3 1520.6,312.1 1521.9,337.0 1523.2,332.8 1524.5,342.4 1525.8,367.0 1527.1,351.3 1528.4,366.7 1529.7,387.6 1531.0,404.6 1532.3,391.8 1533.6,420.3 1534.9,410.3 1536.2,444.0 1537.5,426.0 1538.8,440.9 1540.1,454.6 1541.4,460.8 1542.7,480.0 1544.0,490.2 1545.3,475.2 1546.6,499.7 1547.9,488.3 1549.2,514.3 1550.5,497.7 1551.8,515.8 1553.1,505.3 1554.4,504.7 1555.7,516.1 1557.0,519.3 1558.3,506.1 1559.6,505.6 1560.9,517.5 1562.2,521.0 1563.5,500.9 1564.8,516.2 1566.1,507.6 1567.4,503.6 1568.7,517.7 1570.0,502.2 1571.3,515.4 1572.6,526.9 1573.9,499.2 1575.2,498.9 1576.5,510.5 1577.8,496.8 1579.1,508.4 1580.4,494.4 1581.7,507.4 1583.0,489.1 1584.3,516.5 1585.6,508.1 1586.9,480.3 1588.2,484.9 1589.5,499.0 1590.8,506.8 1592.1,474.7 1593.4,482.4 1594.7,496.5 1596.0,496.0 1597.3,479.6 1598.6,494.3 1599.9,477.2 1601.2,486.0 1602.5,469.7 1603.8,467.8 1605.1,478.7 1606.4,473.4 1607.7,459.3 1609.0,456.4 1610.3,473.5 1611.6,443.9 1612.9,462.0 1614.2,421.7 1615.5,438.9 1616.8,423.0 1618.1,406.7 1619.4,392.6 1620.7,372.9 1622.0,366.5 1623.3,351.4 1624.6,324.5 1625.9,338.9 1627.2,290.7 1628.5,321.8 1629.8,317.5 1631.1,292.5 1632.4,337.7 1633.7,320.5 1635.0,354.9 1636.3,331.2 1637.6,380.8 1638.9,369.9 1640.2,399.2 1641.5,410.2 1642.8,437.9 1644.1,426.7 1645.4,466.3 1646.7,455.9 1648.0,466.8 1649.3,486.5 1650.6,486.2 1651.9,506.0 1653.2,503.1 1654.5,520.6 1655.8,525.6 1657.1,503.8 1658.4,531.1 1659.7,520.5 1661.0,522.1 1662.3,510.7 1663.6,499.7 1664.9,488.1 1666.2,475.8 1667.5,464.0 1668.8,447.5 1670.1,438.4 1671.4,451.8 1672.7,480.3 1674.0,483.6 1675.3,514.6 1676.6,501.1 1677.9,522.1 1679.2,520.6 1680.5,532.7 1681.8,527.3 1683.1,538.7 1684.4,511.6 1685.7,535.6 1687.0,523.2 1688.3,504.4 1689.6,492.7 1690.9,507.4 1692.2,480.5 1693.5,500.9 1694.8,457.8 1696.1,478.1 1697.4,472.7 1698.7,495.7 1700.0,492.2 1701.3,504.2 1702.6,508.2 1703.9,525.0 1705.2,485.4 1706.5,508.9 1707.8,437.5 1709.1,426.9 1710.4,376.9 1711.7,358.5 1713.0,296.3 1714.3,310.2 1715.6,320.8 1716.9,307.8 1718.2,332.4 1719.5,312.1 1720.8,351.7 1722.1,341.9 1723.4,358.9 1724.7,380.5 1726.0,385.6 1727.3,395.3 1728.6,419.7 1729.9,401.7 1731.2,443.3 1732.5,431.0 1733.8,464.6 1735.1,436.7 1736.4,462.2 1737.7,479.0 1739.0,473.0 1740.3,488.3 1741.6,464.4 1742.9,486.8 1744.2,463.1 1745.5,452.6 1746.8,433.5 1748.1,443.2 1749.4,438.6 1750.7,424.9 1752.0,434.8 1753.3,420.8 1754.6,428.5 1755.9,405.7 1757.2,431.1 1758.5,411.3 1759.8,401.6 1761.1,417.0 1762.4,394.6 1763.7,418.7 1765.0,408.0 1766.3,391.0 1767.6,385.1 1768.9,398.4 1770.2,380.7 1771.5,394.6 1772.8,373.9 1774.1,385.1"/><polyline fill="none" stroke="#ff8000" stroke-width="5.5" stroke-linejoin="round" stroke-linecap="butt" points="1504.6,459.0 1505.9,444.8 1507.2,434.5 1508.5,445.9 1509.8,425.6 1511.1,419.6 1512.4,409.7 1513.7,400.4 1515.0,390.4 1516.3,356.3 1517.6,373.6 1518.9,301.0 1520.2,311.0 1521.5,313.5 1522.8,299.3 1524.1,312.1 1525.4,337.0 1526.7,332.8 1528.0,342.4 1529.3,367.0 1530.6,351.3 1531.9,366.7 1533.2,387.6 1534.5,404.6 1535.8,391.8 1537.1,420.3 1538.4,410.3 1539.7,444.0 1541.0,426.0 1542.3,440.9 1543.6,454.6 1544.9,460.8 1546.2,480.0 1547.5,490.2 1548.8,475.2 1550.1,499.7 1551.4,488.3 1552.7,514.3 1554.0,497.7 1555.3,515.8 1556.6,505.3 1557.9,504.7 1559.2,516.1 1560.5,519.3 1561.8,506.1 1563.1,505.6 1564.4,517.5 1565.7,521.0 1567.0,500.9 1568.3,516.2 1569.6,507.6 1570.9,503.6 1572.2,517.7 1573.5,502.2 1574.8,515.4 1576.1,526.9 1577.4,499.2 1578.7,498.9 1580.0,510.5 1581.3,496.8 1582.6,508.4 1583.9,494.4 1585.2,507.4 1586.5,489.1 1587.8,516.5 1589.1,508.1 1590.4,480.3 1591.7,484.9 1593.0,499.0 1594.3,506.8 1595.6,474.7 1596.9,482.4 1598.2,496.5 1599.5,496.0 1600.8,479.6 1602.1,494.3 1603.4,477.2 1604.7,486.0 1606.0,469.7 1607.3,467.8 1608.6,478.7 1609.9,473.4 1611.2,459.3 1612.5,456.4 1613.8,473.5 1615.1,443.9 1616.4,462.0 1617.7,421.7 1619.0,438.9 1620.3,423.0 1621.6,406.7 1622.9,392.6 1624.2,372.9 1625.5,366.5 1626.8,351.4 1628.1,324.5 1629.4,338.9 1630.7,290.7 1632.0,321.8 1633.3,317.5 1634.6,292.5 1635.9,337.7 1637.2,320.5 1638.5,354.9 1639.8,331.2 1641.1,380.8 1642.4,369.9 1643.7,399.2 1645.0,410.2 1646.3,437.9 1647.6,426.7 1648.9,466.3 1650.2,455.9 1651.5,466.8 1652.8,486.5 1654.1,486.2 1655.4,506.0 1656.7,503.1 1658.0,520.6 1659.3,525.6 1660.6,503.8 1661.9,531.1 1663.2,520.5 1664.5,522.1 1665.8,510.7 1667.1,499.7 1668.4,488.1 1669.7,475.8 1671.0,464.0 1672.3,447.5 1673.6,438.4 1674.9,451.8 1676.2,480.3 1677.5,483.6 1678.8,514.6 1680.1,501.1 1681.4,522.1 1682.7,520.6 1684.0,532.7 1685.3,527.3 1686.6,538.7 1687.9,511.6 1689.2,535.6 1690.5,523.2 1691.8,504.4 1693.1,492.7 1694.4,507.4 1695.7,480.5 1697.0,500.9 1698.3,457.8 1699.6,478.1 1700.9,472.7 1702.2,495.7 1703.5,492.2 1704.8,504.2 1706.1,508.2 1707.4,525.0 1708.7,485.4 1710.0,508.9 1711.3,437.5 1712.6,426.9 1713.9,376.9 1715.2,358.5 1716.5,296.3 1717.8,310.2 1719.1,320.8 1720.4,307.8 1721.7,332.4 1723.0,312.1 1724.3,351.7 1725.6,341.9 1726.9,358.9 1728.2,380.5 1729.5,385.6 1730.8,395.3 1732.1,419.7 1733.4,401.7 1734.7,443.3 1736.0,431.0 1737.3,464.6 1738.6,436.7 1739.9,462.2 1741.2,479.0 1742.5,473.0 1743.8,488.3 1745.1,464.4 1746.4,486.8 1747.7,463.1 1749.0,452.6 1750.3,433.5 1751.6,443.2 1752.9,438.6 1754.2,424.9 1755.5,434.8 1756.8,420.8 1758.1,428.5 1759.4,405.7 1760.7,431.1 1762.0,411.3 1763.3,401.6 1764.6,417.0 1765.9,394.6 1767.2,418.7 1768.5,408.0 1769.8,391.0 1771.1,385.1"/><polyline fill="none" stroke="#800000" stroke-width="5.5" stroke-linejoin="round" stroke-linecap="butt" points="268.0,600.0 271.0,560.0 275.0,520.0 281.0,460.0 288.0,420.0 290.0,405.1 291.3,367.6 292.6,402.4 293.9,352.6 295.2,353.9 296.5,389.4 297.8,413.1 299.1,351.6 300.4,383.9 301.7,353.7 303.0,389.7 304.3,328.1 305.6,348.8 306.9,319.5 308.2,346.6 309.5,307.1 310.8,344.4 312.1,288.4 313.4,302.3 314.7,340.9 316.0,328.1 317.3,273.0 318.6,312.3 319.9,280.7 321.2,286.4 322.5,320.6 323.8,333.1 325.1,295.0 326.4,285.2 327.7,326.2 329.0,311.4 330.3,259.2 331.6,311.9 332.9,284.9 334.2,277.5 335.5,336.2 336.8,276.1 338.1,332.3 339.4,307.7 340.7,274.1 342.0,303.4 343.3,275.9 344.6,305.5 345.9,276.3 347.2,307.1 348.5,270.3 349.8,263.3 351.1,300.4 352.4,321.5 353.7,255.6 355.0,331.0 356.3,270.4 357.6,303.3 358.9,274.8 360.2,321.3 361.5,275.9 362.8,277.4 364.1,333.5 365.4,310.4 366.7,275.6 368.0,337.2 369.3,278.3 370.6,334.5 371.9,288.8 373.2,323.6 374.5,288.0 375.8,311.1 377.1,183.0 378.4,277.1 379.7,305.5 381.0,266.6 382.3,301.6 383.6,297.3 384.9,260.8 386.2,262.1 387.5,298.1 388.8,264.7 390.1,320.5 391.4,499.0 392.7,261.9 394.0,480.0 395.3,284.5 396.6,278.2 397.9,332.3 399.2,256.7 400.5,316.2 401.8,280.5 403.1,315.9 404.4,309.9 405.7,256.5 407.0,275.1 408.3,320.3 409.6,269.3 410.9,304.7 412.2,258.7 413.5,293.0 414.8,300.3 416.1,262.4 417.4,250.6 418.7,298.3 420.0,266.1 421.3,297.9 422.6,269.1 423.9,297.8 425.2,296.7 426.5,256.0 427.8,300.3 429.1,257.7 430.4,299.3 431.7,261.6 433.0,313.2 434.3,275.0 435.6,324.0 436.9,286.6 438.2,280.3 439.5,339.6 440.8,332.2 442.1,278.7 443.4,341.6 444.7,299.5 446.0,303.4 447.3,362.0 448.6,348.9 449.9,288.8 451.2,299.0 452.5,352.3 453.8,293.8 455.1,355.2 456.4,337.7 457.7,297.4 459.0,282.8 460.3,370.0 461.6,330.3 462.9,283.2 464.2,340.3 465.5,281.3 466.8,275.1 468.1,328.3 469.4,301.8 470.7,339.9 472.0,303.9 473.3,358.5 474.6,310.0 475.9,340.2 477.2,336.6 478.5,305.7 479.8,291.7 481.1,344.9 482.4,303.7 483.7,334.9 485.0,343.8 486.3,299.2 487.6,282.6 488.9,337.9 490.2,277.4 491.5,334.8 492.8,284.8 494.1,321.4 495.4,311.9 496.7,273.8 498.0,296.4 499.3,246.9 500.6,238.4 501.9,283.9 503.2,271.4 504.5,241.4 505.8,224.5 507.1,258.4 508.4,254.6 509.7,204.0 511.0,217.1 512.3,258.9 513.6,212.1 514.9,257.4 516.2,191.4 517.5,256.6 518.8,202.0 520.1,252.7 521.4,247.4 522.7,209.4 524.0,251.5 525.3,218.4 526.6,226.8 527.9,275.1 529.2,261.4 530.5,223.2 531.8,195.9 533.1,245.5 534.4,204.7 535.7,239.4 537.0,208.8 538.3,242.6 539.6,217.5 540.9,245.5 542.2,215.5 543.5,248.4 544.8,258.2 546.1,203.7 547.4,188.2 548.7,247.4 550.0,259.6 551.3,187.6 552.6,188.7 553.9,259.2 555.2,238.0 556.5,199.8 557.8,202.2 559.1,236.5 560.4,239.7 561.7,191.6 563.0,220.4 564.3,246.0 565.6,264.3 566.9,213.4 568.2,213.5 569.5,240.5 570.8,272.0 572.1,204.2 573.4,231.3 574.7,256.4 576.0,256.7 577.3,222.5 578.6,225.0 579.9,261.5 581.2,210.9 582.5,270.0 583.8,260.8 585.1,205.7 586.4,265.8 587.7,208.1 589.0,218.0 590.3,256.5 591.6,221.0 592.9,260.1 594.2,239.7 595.5,284.2 596.8,236.9 598.1,282.7 599.4,248.9 600.7,291.9 602.0,291.4 603.3,246.1 604.6,271.3 605.9,232.1 607.2,278.6 608.5,233.4 609.8,277.8 611.1,225.9 612.4,206.9 613.7,255.6 615.0,217.4 616.3,273.2 617.6,227.3 618.9,265.9 620.2,235.7 621.5,281.3 622.8,220.3 624.1,274.2 625.4,261.5 626.7,229.1 628.0,266.6 629.3,235.0 630.6,276.3 631.9,233.6 633.2,282.0 634.5,210.0 635.8,223.3 637.1,378.0 638.4,226.0 639.7,254.6 641.0,258.0 642.3,221.5 643.6,251.1 644.9,212.4 646.2,204.8 647.5,263.4 648.8,264.6 650.1,193.2 651.4,208.6 652.7,246.2 654.0,238.4 655.3,203.1 656.6,217.3 657.9,249.6 659.2,249.9 660.5,216.3 661.8,208.7 663.1,255.7 664.4,206.1 665.7,244.6 667.0,246.6 668.3,205.5 669.6,250.5 670.9,208.9 672.2,240.3 673.5,201.0 674.8,199.0 676.1,245.7 677.4,237.1 678.7,207.2 680.0,242.2 681.3,199.0 682.6,218.5 683.9,188.8 685.2,187.5 686.5,223.1 687.8,183.2 689.1,233.6 690.4,197.2 691.7,237.3 693.0,245.2 694.3,119.0 695.6,190.1 696.9,224.2 698.2,192.9 699.5,229.1 700.8,221.2 702.1,186.3 703.4,183.9 704.7,214.8 706.0,184.4 707.3,213.1 708.6,216.9 709.9,177.4 711.2,213.7 712.5,182.2 713.8,167.6 715.1,276.0 716.4,196.5 717.7,168.8 719.0,200.0 720.3,172.2 721.6,174.3 722.9,213.2 724.2,197.5 725.5,149.2 726.8,155.4 728.1,208.4 729.4,181.8 730.7,217.9 732.0,169.6 733.3,219.1 734.6,212.6 735.9,180.0 737.2,185.4 738.5,216.5 739.8,212.1 741.1,182.2 742.4,152.7 743.7,205.9 745.0,206.4 746.3,144.9 747.6,208.1 748.9,168.0 750.2,227.3 751.5,155.3 752.8,175.7 754.1,210.4 755.4,226.1 756.7,160.8 758.0,208.4 759.3,184.2 760.6,225.6 761.9,188.7 763.2,194.0 764.5,237.3 765.8,171.8 767.1,205.7 768.4,156.7 769.7,216.0 771.0,213.4 772.3,186.3 773.6,213.5 774.9,175.6 776.2,222.8 777.5,175.1 778.8,207.2 780.1,168.5 781.4,176.7 782.7,207.6 784.0,177.5 785.3,215.3 786.6,159.8 787.9,216.4 789.2,192.0 790.5,154.9 791.8,157.2 793.1,183.4 794.4,161.9 795.7,196.1 797.0,160.4 798.3,190.0 799.6,184.7 800.9,146.5 802.2,144.6 803.5,179.2 804.8,154.7 806.1,199.0 807.4,171.0 808.7,199.5 810.0,197.6 811.3,120.0 812.6,165.2 813.9,189.6 815.2,159.8 816.5,206.3 817.8,155.9 819.1,211.5 820.4,165.5 821.7,204.0 823.0,205.4 824.3,169.1 825.6,202.6 826.9,173.6 828.2,212.9 829.5,177.2 830.8,207.1 832.1,169.0 833.4,207.6 834.7,167.1 836.0,234.9 837.3,172.0 838.6,192.5 839.9,224.6 841.2,167.4 842.5,218.1 843.8,216.0 845.1,164.8 846.4,156.3 847.7,205.5 849.0,202.8 850.3,171.9 851.6,162.2 852.9,198.1 854.2,171.8 855.5,197.6 856.8,205.6 858.1,167.8 859.4,190.9 860.7,222.0 862.0,185.1 863.3,225.2 864.6,237.6 865.9,190.5 867.2,231.9 868.5,186.8 869.8,188.0 871.1,232.4 872.4,221.5 873.7,176.7 875.0,213.9 876.3,181.4 877.6,171.7 878.9,211.2 880.2,176.8 881.5,208.6 882.8,207.2 884.1,178.1 885.4,147.9 886.7,204.7 888.0,203.2 889.3,162.7 890.6,166.0 891.9,215.4 893.2,182.4 894.5,212.4 895.8,173.2 897.1,231.0 898.4,164.9 899.7,210.9 901.0,183.0 902.3,212.8 903.6,180.7 904.9,210.6 906.2,205.8 907.5,176.2 908.8,155.3 910.1,197.7 911.4,143.1 912.7,199.8 914.0,172.6 915.3,209.0 916.6,155.7 917.9,219.9 919.2,227.1 920.5,156.2 921.8,164.1 923.1,211.4 924.4,202.5 925.7,170.2 927.0,204.9 928.3,155.8 929.6,199.5 930.9,168.9 932.2,170.8 933.5,215.0 934.8,156.5 936.1,200.9 937.4,196.4 938.7,156.3 940.0,136.2 941.3,212.6 942.6,191.1 943.9,143.3 945.2,202.7 946.5,160.1 947.8,186.1 949.1,131.3 950.4,147.1 951.7,185.0 953.0,195.1 954.3,133.1 955.6,147.6 956.9,203.7 958.2,160.1 959.5,200.8 960.8,231.2 962.1,177.1 963.4,232.1 964.7,178.4 966.0,177.5 967.3,221.1 968.6,167.1 969.9,214.5 971.2,148.0 972.5,205.2 973.8,205.5 975.1,165.6 976.4,147.0 977.7,201.4 979.0,162.2 980.3,215.8 981.6,232.2 982.9,152.1 984.2,222.8 985.5,156.5 986.8,193.2 988.1,144.9 989.4,168.3 990.7,216.4 992.0,204.0 993.3,171.1 994.6,192.2 995.9,154.6 997.2,128.6 998.5,209.3 999.8,161.1 1001.1,200.7 1002.4,160.5 1003.7,201.4 1005.0,155.8 1006.3,193.3 1007.6,154.5 1008.9,192.1 1010.2,157.3 1011.5,200.7 1012.8,199.7 1014.1,163.5 1015.4,190.7 1016.7,145.0 1018.0,188.2 1019.3,153.7 1020.6,190.9 1021.9,150.4 1023.2,186.6 1024.5,137.7 1025.8,184.2 1027.1,131.0 1028.4,181.4 1029.7,142.5 1031.0,185.8 1032.3,139.7 1033.6,158.5 1034.9,227.0 1036.2,230.3 1037.5,172.6 1038.8,234.6 1040.1,164.7 1041.4,222.1 1042.7,178.9 1044.0,223.3 1045.3,182.4 1046.6,220.8 1047.9,169.8 1049.2,208.8 1050.5,171.7 1051.8,220.9 1053.1,160.8 1054.4,163.4 1055.7,203.0 1057.0,224.9 1058.3,161.4 1059.6,199.5 1060.9,141.7 1062.2,156.9 1063.5,204.4 1064.8,193.2 1066.1,137.8 1067.4,160.6 1068.7,223.7 1070.0,210.0 1071.3,146.5 1072.6,215.6 1073.9,157.0 1075.2,161.6 1076.5,245.6 1077.8,242.7 1079.1,178.7 1080.4,163.5 1081.7,224.0 1083.0,236.3 1084.3,185.8 1085.6,192.1 1086.9,231.2 1088.2,230.4 1089.5,183.7 1090.8,256.3 1092.1,172.3 1093.4,175.0 1094.7,232.7 1096.0,177.8 1097.3,223.2 1098.6,221.1 1099.9,164.5 1101.2,170.3 1102.5,241.3 1103.8,170.5 1105.1,220.2 1106.4,234.4 1107.7,188.0 1109.0,190.7 1110.3,244.6 1111.6,236.2 1112.9,200.4 1114.2,241.9 1115.5,196.6 1116.8,226.4 1118.1,195.6 1119.4,180.6 1120.7,260.9 1122.0,261.6 1123.3,202.5 1124.6,229.4 1125.9,270.6 1127.2,222.9 1128.5,254.2 1129.8,223.9 1131.1,256.9 1132.4,256.5 1133.7,207.4 1135.0,264.4 1136.3,199.2 1137.6,247.8 1138.9,206.6 1140.2,202.2 1141.5,258.3 1142.8,239.9 1144.1,203.0 1145.4,196.6 1146.7,238.4 1148.0,199.8 1149.3,236.8 1150.6,201.0 1151.9,257.3 1153.2,196.5 1154.5,253.2 1155.8,237.9 1157.1,198.5 1158.4,179.4 1159.7,235.6 1161.0,254.2 1162.3,176.8 1163.6,250.6 1164.9,200.3 1166.2,222.8 1167.5,259.8 1168.8,288.7 1170.1,230.1 1171.4,264.8 1172.7,220.0 1174.0,287.5 1175.3,232.8 1176.6,274.5 1177.9,217.1 1179.2,277.7 1180.5,204.3 1181.8,262.1 1183.1,208.5 1184.4,251.8 1185.7,184.7 1187.0,199.8 1188.3,239.8 1189.6,207.0 1190.9,259.7 1192.2,274.8 1193.5,209.9 1194.8,219.1 1196.1,255.1 1197.4,272.5 1198.7,220.8 1200.0,224.9 1201.3,274.5 1202.6,227.7 1203.9,263.6 1205.2,264.4 1206.5,226.4 1207.8,215.4 1209.1,252.5 1210.4,253.4 1211.7,215.2 1213.0,260.7 1214.3,217.0 1215.6,277.2 1216.9,220.2 1218.2,291.0 1219.5,233.5 1220.8,239.1 1222.1,280.2 1223.4,218.8 1224.7,295.7 1226.0,249.6 1227.3,286.3 1228.6,241.3 1229.9,279.5 1231.2,222.3 1232.5,267.5 1233.8,266.0 1235.1,230.1 1236.4,227.1 1237.7,270.4 1239.0,261.3 1240.3,217.7 1241.6,224.1 1242.9,256.0 1244.2,265.3 1245.5,206.7 1246.8,210.9 1248.1,254.5 1249.4,213.8 1250.7,271.5 1252.0,251.9 1253.3,283.8 1254.6,286.8 1255.9,255.1 1257.2,285.2 1258.5,251.7 1259.8,243.1 1261.1,301.1 1262.4,231.6 1263.7,266.0 1265.0,225.8 1266.3,283.3 1267.6,202.7 1268.9,286.5 1270.2,212.6 1271.5,259.8 1272.8,266.0 1274.1,219.5 1275.4,223.5 1276.7,269.0 1278.0,284.4 1279.3,215.4 1280.6,285.7 1281.9,219.4 1283.2,211.3 1284.5,282.8 1285.8,226.5 1287.1,270.7 1288.4,264.4 1289.7,226.4 1291.0,226.2 1292.3,275.3 1293.6,237.1 1294.9,269.7 1296.2,279.4 1297.5,234.4 1298.8,224.5 1300.1,302.0 1301.4,288.4 1302.7,235.3 1304.0,285.5 1305.3,242.2 1306.6,274.3 1307.9,237.9 1309.2,280.7 1310.5,235.4 1311.8,235.1 1313.1,278.7 1314.4,271.0 1315.7,227.3 1317.0,259.1 1318.3,196.9 1319.6,270.7 1320.9,196.4 1322.2,248.1 1323.5,207.5 1324.8,253.3 1326.1,207.1 1327.4,200.4 1328.7,241.4 1330.0,246.4 1331.3,210.4 1332.6,241.4 1333.9,184.2 1335.2,206.8 1336.5,246.7 1337.8,253.6 1339.1,210.9 1340.4,286.3 1341.7,225.3 1343.0,257.6 1344.3,218.0 1345.6,258.0 1346.9,219.7 1348.2,254.7 1349.5,215.0 1350.8,189.7 1352.1,248.3 1353.4,251.8 1354.7,208.2 1356.0,251.5 1357.3,216.1 1358.6,197.7 1359.9,247.0 1361.2,242.7 1362.5,206.2 1363.8,200.5 1365.1,237.7 1366.4,183.8 1367.7,247.2 1369.0,247.3 1370.3,212.7 1371.6,215.3 1372.9,255.7 1374.2,247.0 1375.5,214.4 1376.8,248.9 1378.1,189.2 1379.4,262.3 1380.7,207.0 1382.0,267.9 1383.3,214.5 1384.6,194.9 1385.9,241.8 1387.2,234.8 1388.5,193.8 1389.8,247.5 1391.1,183.8 1392.4,232.1 1393.7,193.4 1395.0,222.7 1396.3,185.3 1397.6,232.1 1398.9,186.5 1400.2,201.0 1401.5,251.3 1402.8,212.3 1404.1,254.4 1405.4,214.3 1406.7,244.8 1408.0,249.2 1409.3,212.8 1410.6,191.3 1411.9,250.4 1413.2,196.7 1414.5,255.4 1415.8,214.4 1417.1,246.1 1418.4,205.7 1419.7,254.3 1421.0,268.5 1422.3,219.0 1423.6,212.6 1424.9,259.0 1426.2,221.9 1427.5,254.5 1428.8,281.7 1430.1,200.8 1431.4,263.9 1432.7,220.8 1434.0,211.9 1435.3,257.1 1436.6,258.4 1437.9,218.0 1439.2,279.2 1440.5,233.7 1441.8,232.8 1443.1,268.6 1444.4,217.1 1445.7,256.8 1447.0,205.3 1448.3,251.7 1449.6,240.8 1450.9,211.9 1452.2,192.6 1453.5,251.6 1454.8,261.6 1456.1,210.5 1457.4,217.4 1458.7,257.1 1460.0,214.5 1461.3,263.4 1462.6,244.8 1463.9,203.7 1465.2,247.4 1466.5,181.4 1467.8,200.3 1469.1,238.5 1470.4,194.5 1471.7,240.1 1473.0,196.5 1474.3,251.0 1475.6,235.6 1476.9,179.4 1478.2,267.4 1479.5,189.7 1480.8,201.7 1482.1,246.5 1483.4,250.3 1484.7,192.7 1486.0,237.0 1487.3,174.3 1488.6,199.0 1489.9,248.3 1491.2,254.5 1492.5,211.2 1493.8,256.7 1495.1,202.6 1496.4,276.7 1497.7,215.4 1499.0,254.7 1500.3,212.7 1501.6,262.1 1502.9,212.5 1504.2,215.7 1505.5,251.2 1506.8,203.2 1508.1,244.5 1509.4,242.4 1510.7,202.0 1512.0,188.3 1513.3,235.6 1514.6,186.8 1515.9,219.5 1517.2,196.4 1518.5,226.3 1519.8,193.4 1521.1,254.4 1522.4,255.2 1523.7,192.5 1525.0,256.1 1526.3,194.7 1527.6,254.8 1528.9,212.1 1530.2,242.3 1531.5,199.6 1532.8,208.2 1534.1,257.1 1535.4,258.4 1536.7,206.4 1538.0,206.6 1539.3,239.7 1540.6,204.9 1541.9,244.7 1543.2,264.4 1544.5,215.5 1545.8,223.6 1547.1,280.2 1548.4,210.6 1549.7,257.7 1551.0,266.9 1552.3,229.7 1553.6,203.4 1554.9,259.8 1556.2,230.4 1557.5,264.7 1558.8,219.7 1560.1,266.4 1561.4,190.2 1562.7,245.5 1564.0,200.5 1565.3,260.4 1566.6,268.7 1567.9,204.0 1569.2,267.5 1570.5,222.0 1571.8,270.3 1573.1,225.5 1574.4,262.3 1575.7,224.6 1577.0,215.5 1578.3,250.8 1579.6,206.4 1580.9,244.0 1582.2,253.2 1583.5,211.2 1584.8,257.7 1586.1,213.6 1587.4,236.8 1588.7,204.7 1590.0,232.4 1591.3,202.1 1592.6,239.7 1593.9,209.8 1595.2,195.5 1596.5,237.9 1597.8,197.5 1599.1,236.7 1600.4,196.2 1601.7,255.3 1603.0,214.0 1604.3,244.1 1605.6,254.1 1606.9,203.2 1608.2,268.5 1609.5,203.1 1610.8,253.1 1612.1,208.8 1613.4,264.4 1614.7,205.6 1616.0,269.8 1617.3,212.3 1618.6,251.1 1619.9,210.2 1621.2,186.2 1622.5,244.3 1623.8,255.2 1625.1,201.2 1626.4,211.7 1627.7,275.1 1629.0,252.9 1630.3,197.5 1631.6,223.0 1632.9,182.2 1634.2,231.5 1635.5,174.9 1636.8,244.9 1638.1,202.1 1639.4,255.7 1640.7,197.8 1642.0,196.9 1643.3,227.0 1644.6,170.4 1645.9,248.3 1647.2,192.5 1648.5,225.6 1649.8,239.9 1651.1,181.7 1652.4,242.8 1653.7,208.9 1655.0,187.3 1656.3,242.4 1657.6,184.7 1658.9,228.9 1660.2,198.7 1661.5,236.8 1662.8,243.3 1664.1,205.1 1665.4,254.5 1666.7,210.6 1668.0,269.7 1669.3,203.8 1670.6,272.2 1671.9,240.2 1673.2,282.7 1674.5,237.9 1675.8,282.4 1677.1,247.0 1678.4,235.3 1679.7,274.4 1681.0,225.5 1682.3,270.5 1683.6,209.9 1684.9,286.8 1686.2,238.7 1687.5,284.4 1688.8,278.0 1690.1,241.2 1691.4,273.8 1692.7,230.3 1694.0,203.4 1695.3,247.6 1696.6,243.8 1697.9,202.0 1699.2,261.9 1700.5,209.6 1701.8,216.2 1703.1,256.6 1704.4,218.2 1705.7,247.9 1707.0,251.3 1708.3,186.4 1709.6,259.2 1710.9,215.5 1712.2,211.3 1713.5,262.8 1714.8,236.3 1716.1,287.9 1717.4,293.0 1718.7,242.0 1720.0,234.7 1721.3,287.3 1722.6,223.0 1723.9,259.4 1725.2,214.2 1726.5,257.9 1727.8,232.3 1729.1,270.6 1730.4,289.4 1731.7,237.4 1733.0,215.2 1734.3,286.0 1735.6,204.2 1736.9,267.8 1738.2,226.2 1739.5,288.0 1740.8,224.4 1742.1,253.3 1743.4,191.7 1744.7,247.9 1746.0,277.9 1747.3,224.2 1748.6,263.8 1749.9,233.4 1751.2,270.8 1752.5,215.2 1753.8,238.0 1755.1,204.8 1756.4,235.1 1757.7,205.5 1759.0,258.4 1760.3,219.1 1761.6,225.5 1762.9,262.8 1764.2,263.5 1765.5,226.1 1766.8,262.0 1768.1,225.0 1769.4,284.5 1770.7,214.1 1772.0,264.7 1773.3,228.1"/><polyline fill="none" stroke="#8000ff" stroke-width="5.5" stroke-linejoin="round" stroke-linecap="butt" points="268.0,505.0 270.0,470.0 272.0,420.0 275.0,405.0 278.0,430.0 281.0,460.0 284.0,420.0 286.0,398.6 287.3,367.0 288.6,384.4 289.9,323.4 291.2,289.8 292.5,331.6 293.8,322.3 295.1,275.3 296.4,318.3 297.7,255.3 299.0,250.7 300.3,301.9 301.6,296.1 302.9,235.9 304.2,241.9 305.5,299.1 306.8,229.7 308.1,298.2 309.4,245.2 310.7,290.7 312.0,292.3 313.3,229.2 314.6,239.0 315.9,291.9 317.2,282.6 318.5,236.2 319.8,243.0 321.1,284.8 322.4,245.1 323.7,292.6 325.0,297.2 326.3,249.8 327.6,226.5 328.9,317.9 330.2,296.7 331.5,247.6 332.8,247.1 334.1,288.6 335.4,286.5 336.7,237.1 338.0,278.8 339.3,223.6 340.6,278.9 341.9,233.9 343.2,215.6 344.5,294.8 345.8,285.7 347.1,239.6 348.4,274.8 349.7,216.7 351.0,226.0 352.3,270.1 353.6,287.9 354.9,208.5 356.2,292.6 357.5,233.7 358.8,303.9 360.1,226.3 361.4,323.7 362.7,253.1 364.0,295.4 365.3,248.1 366.6,307.1 367.9,241.7 369.2,307.7 370.5,238.7 371.8,289.2 373.1,243.9 374.4,280.2 375.7,216.6 377.0,224.6 378.3,280.0 379.6,276.3 380.9,199.8 382.2,227.5 383.5,276.8 384.8,282.0 386.1,214.3 387.4,226.5 388.7,294.8 390.0,213.1 391.3,275.5 392.6,243.9 393.9,290.7 395.2,307.7 396.5,237.2 397.8,283.4 399.1,240.2 400.4,233.5 401.7,297.0 403.0,160.0 404.3,297.7 405.6,278.4 406.9,224.4 408.2,229.3 409.5,269.4 410.8,255.5 412.1,202.5 413.4,209.6 414.7,266.6 416.0,260.9 417.3,155.0 418.6,218.8 419.9,276.3 421.2,263.7 422.5,213.1 423.8,259.5 425.1,216.1 426.4,206.0 427.7,279.0 429.0,214.1 430.3,254.6 431.6,267.9 432.9,211.6 434.2,221.0 435.5,297.5 436.8,238.4 438.1,289.0 439.4,309.6 440.7,234.1 442.0,247.8 443.3,288.5 444.6,290.1 445.9,247.3 447.2,297.4 448.5,253.4 449.8,307.9 451.1,259.7 452.4,248.5 453.7,292.0 455.0,220.8 456.3,287.2 457.6,284.2 458.9,235.3 460.2,294.6 461.5,232.1 462.8,241.5 464.1,291.7 465.4,233.3 466.7,303.4 468.0,295.3 469.3,238.0 470.6,253.6 471.9,294.8 473.2,255.4 474.5,298.1 475.8,315.7 477.1,240.4 478.4,258.5 479.7,296.5 481.0,239.3 482.3,296.5 483.6,291.6 484.9,232.0 486.2,254.4 487.5,295.9 488.8,307.0 490.1,264.2 491.4,243.1 492.7,304.5 494.0,241.5 495.3,297.1 496.6,298.7 497.9,251.6 499.2,300.3 500.5,242.9 501.8,306.8 503.1,223.5 504.4,211.9 505.7,292.1 507.0,289.4 508.3,243.1 509.6,234.1 510.9,305.9 512.2,288.6 513.5,239.0 514.8,304.6 516.1,240.1 517.4,240.9 518.7,300.2 520.0,294.6 521.3,256.3 522.6,298.5 523.9,256.8 525.2,246.1 526.5,293.2 527.8,231.4 529.1,299.8 530.4,314.3 531.7,257.3 533.0,245.7 534.3,283.1 535.6,309.9 536.9,252.0 538.2,314.4 539.5,257.3 540.8,253.4 542.1,299.1 543.4,236.7 544.7,303.7 546.0,301.2 547.3,242.4 548.6,292.8 549.9,250.5 551.2,247.3 552.5,297.0 553.8,297.6 555.1,254.3 556.4,244.9 557.7,291.1 559.0,275.8 560.3,242.0 561.6,283.0 562.9,239.1 564.2,218.3 565.5,288.0 566.8,223.0 568.1,280.2 569.4,221.0 570.7,269.0 572.0,275.2 573.3,222.1 574.6,280.8 575.9,221.4 577.2,295.3 578.5,260.9 579.8,256.8 581.1,306.8 582.4,309.9 583.7,271.2 585.0,305.2 586.3,234.3 587.6,255.8 588.9,295.6 590.2,292.0 591.5,248.5 592.8,240.9 594.1,284.3 595.4,277.9 596.7,232.4 598.0,240.9 599.3,278.0 600.6,273.4 601.9,228.1 603.2,239.0 604.5,277.9 605.8,285.4 607.1,245.4 608.4,230.4 609.7,291.2 611.0,228.7 612.3,264.3 613.6,220.0 614.9,275.5 616.2,275.4 617.5,236.7 618.8,289.3 620.1,239.9 621.4,279.8 622.7,239.3 624.0,283.0 625.3,237.6 626.6,286.4 627.9,238.9 629.2,242.9 630.5,284.8 631.8,277.4 633.1,242.9 634.4,226.6 635.7,265.5 637.0,230.5 638.3,269.0 639.6,283.5 640.9,233.9 642.2,272.2 643.5,234.5 644.8,208.0 646.1,276.9 647.4,278.9 648.7,234.7 650.0,233.1 651.3,269.8 652.6,265.7 653.9,236.5 655.2,206.6 656.5,272.3 657.8,221.5 659.1,271.5 660.4,259.1 661.7,227.1 663.0,225.4 664.3,266.2 665.6,283.2 666.9,232.3 668.2,221.8 669.5,263.5 670.8,262.5 672.1,218.2 673.4,275.5 674.7,232.5 676.0,270.8 677.3,197.7 678.6,219.3 679.9,256.7 681.2,261.2 682.5,207.5 683.8,253.4 685.1,211.4 686.4,250.1 687.7,215.9 689.0,254.1 690.3,218.5 691.6,214.1 692.9,251.8 694.2,205.3 695.5,236.3 696.8,178.2 698.1,254.1 699.4,244.6 700.7,184.2 702.0,237.9 703.3,199.2 704.6,227.0 705.9,193.4 707.2,231.8 708.5,181.4 709.8,232.0 711.1,193.4 712.4,248.9 713.7,206.2 715.0,203.7 716.3,234.6 717.6,193.1 718.9,234.9 720.2,247.5 721.5,177.9 722.8,201.5 724.1,258.9 725.4,259.5 726.7,230.3 728.0,275.8 729.3,219.2 730.6,217.3 731.9,264.3 733.2,199.3 734.5,255.1 735.8,217.6 737.1,252.8 738.4,251.1 739.7,213.0 741.0,207.0 742.3,256.5 743.6,206.4 744.9,273.8 746.2,221.3 747.5,256.2 748.8,218.0 750.1,272.0 751.4,255.9 752.7,221.4 754.0,263.8 755.3,215.8 756.6,262.2 757.9,209.8 759.2,214.8 760.5,267.2 761.8,254.8 763.1,223.4 764.4,268.1 765.7,218.8 767.0,205.8 768.3,245.2 769.6,251.3 770.9,204.6 772.2,191.1 773.5,254.1 774.8,259.7 776.1,210.0 777.4,205.7 778.7,257.4 780.0,239.7 781.3,179.8 782.6,245.0 783.9,202.0 785.2,200.4 786.5,246.4 787.8,230.0 789.1,190.9 790.4,170.9 791.7,218.1 793.0,228.2 794.3,161.7 795.6,161.2 796.9,213.1 798.2,173.8 799.5,209.8 800.8,208.8 802.1,159.0 803.4,177.6 804.7,213.9 806.0,176.1 807.3,223.2 808.6,218.1 809.9,178.7 811.2,179.4 812.5,215.0 813.8,225.1 815.1,184.2 816.4,218.9 817.7,170.4 819.0,163.8 820.3,209.9 821.6,172.3 822.9,216.2 824.2,232.4 825.5,193.1 826.8,234.8 828.1,187.6 829.4,182.7 830.7,238.2 832.0,222.6 833.3,192.5 834.6,178.1 835.9,216.9 837.2,168.2 838.5,227.4 839.8,215.4 841.1,143.3 842.4,205.6 843.7,152.1 845.0,208.1 846.3,167.3 847.6,169.2 848.9,209.6 850.2,168.9 851.5,214.1 852.8,178.7 854.1,225.1 855.4,225.5 856.7,186.3 858.0,218.2 859.3,173.7 860.6,221.3 861.9,182.0 863.2,227.5 864.5,186.8 865.8,225.0 867.1,110.0 868.4,178.6 869.7,211.8 871.0,169.1 872.3,204.5 873.6,197.0 874.9,162.8 876.2,207.7 877.5,170.2 878.8,218.7 880.1,186.3 881.4,231.3 882.7,188.9 884.0,187.2 885.3,218.4 886.6,210.2 887.9,169.6 889.2,175.7 890.5,210.0 891.8,211.3 893.1,177.8 894.4,166.2 895.7,224.8 897.0,160.0 898.3,197.5 899.6,196.2 900.9,146.1 902.2,226.6 903.5,164.8 904.8,209.4 906.1,175.7 907.4,157.8 908.7,199.6 910.0,201.2 911.3,156.9 912.6,217.5 913.9,105.0 915.2,172.6 916.5,209.7 917.8,210.0 919.1,169.0 920.4,190.8 921.7,134.3 923.0,145.3 924.3,193.8 925.6,173.4 926.9,205.4 928.2,162.9 929.5,207.2 930.8,198.7 932.1,167.3 933.4,158.7 934.7,205.0 936.0,178.5 937.3,126.2 938.6,138.9 939.9,176.9 941.2,129.4 942.5,188.0 943.8,189.7 945.1,157.4 946.4,190.3 947.7,130.1 949.0,144.2 950.3,187.2 951.6,156.2 952.9,193.5 954.2,197.4 955.5,140.6 956.8,161.6 958.1,202.6 959.4,150.8 960.7,206.5 962.0,174.7 963.3,219.5 964.6,225.6 965.9,185.0 967.2,238.2 968.5,181.3 969.8,227.8 971.1,182.6 972.4,173.2 973.7,218.9 975.0,218.7 976.3,177.1 977.6,177.4 978.9,216.4 980.2,217.3 981.5,163.2 982.8,209.8 984.1,166.8 985.4,223.6 986.7,173.0 988.0,183.0 989.3,215.4 990.6,161.1 991.9,209.0 993.2,198.9 994.5,168.9 995.8,215.2 997.1,138.9 998.4,154.6 999.7,216.3 1001.0,207.2 1002.3,172.6 1003.6,167.3 1004.9,213.7 1006.2,201.9 1007.5,143.6 1008.8,221.0 1010.1,171.6 1011.4,158.4 1012.7,205.9 1014.0,179.4 1015.3,211.5 1016.6,230.7 1017.9,179.4 1019.2,168.4 1020.5,224.3 1021.8,166.4 1023.1,216.0 1024.4,219.1 1025.7,158.2 1027.0,192.1 1028.3,241.9 1029.6,191.0 1030.9,234.4 1032.2,225.0 1033.5,163.5 1034.8,169.7 1036.1,214.6 1037.4,205.8 1038.7,158.4 1040.0,191.3 1041.3,156.0 1042.6,215.9 1043.9,166.0 1045.2,169.5 1046.5,220.9 1047.8,220.5 1049.1,188.8 1050.4,228.5 1051.7,187.0 1053.0,251.1 1054.3,193.4 1055.6,232.1 1056.9,197.9 1058.2,252.0 1059.5,197.8 1060.8,166.0 1062.1,224.1 1063.4,180.2 1064.7,212.9 1066.0,186.0 1067.3,218.5 1068.6,184.5 1069.9,233.8 1071.2,226.0 1072.5,164.7 1073.8,182.2 1075.1,232.3 1076.4,181.5 1077.7,230.5 1079.0,182.6 1080.3,214.6 1081.6,155.0 1082.9,209.0 1084.2,203.7 1085.5,171.7 1086.8,210.9 1088.1,166.6 1089.4,169.3 1090.7,225.7 1092.0,171.9 1093.3,205.7 1094.6,168.0 1095.9,211.0 1097.2,216.1 1098.5,185.8 1099.8,225.4 1101.1,176.9 1102.4,226.7 1103.7,188.6 1105.0,218.4 1106.3,182.0 1107.6,215.6 1108.9,186.4 1110.2,234.8 1111.5,178.2 1112.8,240.1 1114.1,192.3 1115.4,195.5 1116.7,225.5 1118.0,223.3 1119.3,180.8 1120.6,163.6 1121.9,215.8 1123.2,186.9 1124.5,218.0 1125.8,189.6 1127.1,222.6 1128.4,218.7 1129.7,171.4 1131.0,162.1 1132.3,223.1 1133.6,205.7 1134.9,158.4 1136.2,183.6 1137.5,226.3 1138.8,232.3 1140.1,189.9 1141.4,189.6 1142.7,240.8 1144.0,212.5 1145.3,174.8 1146.6,219.0 1147.9,182.7 1149.2,183.8 1150.5,234.4 1151.8,212.9 1153.1,168.2 1154.4,207.5 1155.7,162.2 1157.0,172.2 1158.3,209.5 1159.6,160.4 1160.9,217.5 1162.2,218.5 1163.5,189.0 1164.8,157.7 1166.1,216.3 1167.4,161.9 1168.7,213.4 1170.0,140.0 1171.3,214.8 1172.6,224.2 1173.9,183.6 1175.2,223.9 1176.5,180.2 1177.8,171.4 1179.1,232.0 1180.4,155.9 1181.7,231.7 1183.0,168.6 1184.3,214.2 1185.6,179.9 1186.9,211.2 1188.2,180.2 1189.5,216.2 1190.8,193.8 1192.1,227.3 1193.4,179.8 1194.7,242.2 1196.0,207.7 1197.3,249.9 1198.6,241.7 1199.9,186.5 1201.2,245.1 1202.5,182.7 1203.8,183.7 1205.1,219.9 1206.4,168.3 1207.7,219.3 1209.0,222.9 1210.3,147.2 1211.6,193.8 1212.9,163.6 1214.2,158.9 1215.5,203.0 1216.8,210.7 1218.1,173.7 1219.4,173.1 1220.7,207.9 1222.0,153.1 1223.3,213.7 1224.6,204.4 1225.9,156.1 1227.2,209.9 1228.5,177.0 1229.8,211.6 1231.1,176.0 1232.4,188.7 1233.7,222.2 1235.0,201.7 1236.3,236.3 1237.6,238.3 1238.9,194.5 1240.2,241.3 1241.5,201.5 1242.8,206.0 1244.1,237.1 1245.4,231.7 1246.7,180.5 1248.0,177.4 1249.3,211.9 1250.6,212.0 1251.9,166.4 1253.2,189.0 1254.5,220.3 1255.8,221.6 1257.1,166.4 1258.4,182.5 1259.7,217.9 1261.0,219.9 1262.3,173.6 1263.6,176.4 1264.9,222.9 1266.2,168.7 1267.5,238.6 1268.8,168.9 1270.1,234.7 1271.4,190.2 1272.7,227.1 1274.0,165.5 1275.3,224.1 1276.6,220.5 1277.9,186.7 1279.2,189.2 1280.5,225.6 1281.8,220.7 1283.1,173.7 1284.4,184.8 1285.7,220.1 1287.0,208.3 1288.3,239.7 1289.6,255.2 1290.9,211.1 1292.2,199.1 1293.5,245.8 1294.8,228.0 1296.1,163.1 1297.4,236.8 1298.7,172.7 1300.0,236.0 1301.3,173.3 1302.6,230.7 1303.9,164.6 1305.2,163.1 1306.5,225.1 1307.8,231.6 1309.1,180.0 1310.4,186.7 1311.7,223.6 1313.0,221.2 1314.3,188.0 1315.6,188.0 1316.9,245.7 1318.2,180.4 1319.5,223.1 1320.8,240.6 1322.1,170.7 1323.4,194.7 1324.7,233.9 1326.0,228.6 1327.3,186.4 1328.6,230.9 1329.9,175.5 1331.2,197.1 1332.5,234.4 1333.8,211.4 1335.1,242.5 1336.4,201.4 1337.7,236.8 1339.0,190.3 1340.3,230.6 1341.6,230.6 1342.9,184.5 1344.2,200.6 1345.5,247.3 1346.8,250.2 1348.1,221.2 1349.4,219.9 1350.7,259.0 1352.0,193.1 1353.3,257.9 1354.6,244.1 1355.9,191.6 1357.2,228.6 1358.5,195.4 1359.8,239.6 1361.1,191.8 1362.4,238.2 1363.7,192.6 1365.0,253.9 1366.3,203.8 1367.6,184.6 1368.9,238.9 1370.2,235.3 1371.5,205.4 1372.8,211.4 1374.1,245.9 1375.4,268.7 1376.7,219.9 1378.0,268.4 1379.3,219.6 1380.6,217.3 1381.9,256.0 1383.2,252.6 1384.5,218.7 1385.8,192.4 1387.1,247.4 1388.4,262.5 1389.7,225.1 1391.0,259.2 1392.3,226.7 1393.6,210.7 1394.9,264.8 1396.2,262.8 1397.5,209.7 1398.8,274.6 1400.1,215.0 1401.4,232.9 1402.7,279.7 1404.0,275.8 1405.3,220.4 1406.6,215.2 1407.9,253.6 1409.2,217.4 1410.5,260.0 1411.8,212.0 1413.1,246.9 1414.4,251.7 1415.7,191.8 1417.0,246.9 1418.3,207.6 1419.6,208.6 1420.9,258.4 1422.2,235.4 1423.5,192.1 1424.8,237.7 1426.1,190.3 1427.4,210.4 1428.7,239.7 1430.0,210.4 1431.3,246.0 1432.6,238.9 1433.9,204.6 1435.2,208.1 1436.5,242.3 1437.8,185.9 1439.1,244.9 1440.4,207.0 1441.7,248.4 1443.0,248.6 1444.3,214.0 1445.6,252.1 1446.9,221.1 1448.2,229.2 1449.5,261.5 1450.8,223.7 1452.1,278.0 1453.4,259.4 1454.7,207.5 1456.0,233.1 1457.3,266.6 1458.6,280.7 1459.9,224.3 1461.2,252.7 1462.5,295.1 1463.8,290.8 1465.1,258.6 1466.4,226.3 1467.7,286.3 1469.0,293.5 1470.3,253.6 1471.6,304.6 1472.9,248.2 1474.2,229.8 1475.5,278.9 1476.8,218.5 1478.1,293.3 1479.4,253.8 1480.7,291.0 1482.0,281.6 1483.3,245.2 1484.6,290.2 1485.9,220.4 1487.2,254.0 1488.5,301.2 1489.8,287.5 1491.1,252.3 1492.4,288.2 1493.7,247.6 1495.0,231.4 1496.3,274.2 1497.6,214.3 1498.9,278.7 1500.2,294.5 1501.5,239.5 1502.8,223.2 1504.1,280.9 1505.4,266.0 1506.7,230.6 1508.0,228.0 1509.3,268.6 1510.6,258.4 1511.9,215.1 1513.2,257.5 1514.5,202.0 1515.8,258.9 1517.1,225.2 1518.4,217.5 1519.7,271.2 1521.0,231.2 1522.3,267.1 1523.6,272.2 1524.9,220.2 1526.2,213.5 1527.5,259.7 1528.8,260.1 1530.1,218.5 1531.4,273.6 1532.7,224.9 1534.0,213.3 1535.3,251.1 1536.6,248.4 1537.9,218.2 1539.2,264.0 1540.5,212.0 1541.8,216.3 1543.1,263.3 1544.4,280.7 1545.7,230.0 1547.0,273.1 1548.3,240.8 1549.6,236.4 1550.9,283.9 1552.2,280.5 1553.5,240.7 1554.8,237.1 1556.1,275.0 1557.4,227.7 1558.7,265.6 1560.0,246.3 1561.3,208.8 1562.6,199.6 1563.9,233.1 1565.2,204.9 1566.5,239.0 1567.8,266.9 1569.1,205.1 1570.4,197.2 1571.7,254.0 1573.0,217.6 1574.3,252.2 1575.6,261.2 1576.9,220.6 1578.2,282.0 1579.5,234.9 1580.8,223.8 1582.1,274.4 1583.4,256.4 1584.7,215.3 1586.0,228.0 1587.3,256.7 1588.6,231.6 1589.9,269.2 1591.2,280.8 1592.5,240.3 1593.8,279.6 1595.1,241.8 1596.4,282.6 1597.7,245.4 1599.0,279.1 1600.3,228.0 1601.6,242.6 1602.9,281.6 1604.2,292.4 1605.5,225.7 1606.8,240.0 1608.1,287.0 1609.4,239.2 1610.7,274.8 1612.0,220.4 1613.3,262.0 1614.6,212.5 1615.9,263.0 1617.2,202.1 1618.5,270.5 1619.8,197.1 1621.1,252.4 1622.4,261.5 1623.7,224.6 1625.0,253.7 1626.3,223.2 1627.6,207.5 1628.9,249.4 1630.2,246.9 1631.5,187.3 1632.8,262.4 1634.1,207.8 1635.4,214.4 1636.7,264.3 1638.0,235.5 1639.3,269.9 1640.6,233.9 1641.9,268.6 1643.2,228.3 1644.5,273.5 1645.8,224.8 1647.1,266.9 1648.4,292.2 1649.7,231.0 1651.0,224.9 1652.3,294.5 1653.6,291.2 1654.9,239.6 1656.2,224.5 1657.5,272.9 1658.8,275.7 1660.1,237.7 1661.4,231.5 1662.7,270.7 1664.0,237.5 1665.3,288.0 1666.6,280.0 1667.9,226.2 1669.2,272.9 1670.5,242.0 1671.8,236.9 1673.1,275.4 1674.4,242.9 1675.7,280.3 1677.0,279.9 1678.3,240.0 1679.6,297.3 1680.9,239.2 1682.2,229.8 1683.5,260.5 1684.8,275.7 1686.1,223.4 1687.4,221.4 1688.7,273.0 1690.0,230.2 1691.3,272.7 1692.6,275.7 1693.9,237.4 1695.2,277.3 1696.5,249.1 1697.8,299.4 1699.1,245.5 1700.4,288.7 1701.7,244.9 1703.0,302.3 1704.3,227.9 1705.6,287.8 1706.9,245.4 1708.2,283.8 1709.5,247.1 1710.8,285.5 1712.1,229.2 1713.4,250.0 1714.7,288.8 1716.0,254.8 1717.3,294.7 1718.6,295.8 1719.9,260.1 1721.2,236.6 1722.5,298.0 1723.8,290.4 1725.1,256.3 1726.4,284.5 1727.7,249.3 1729.0,299.6 1730.3,231.5 1731.6,285.7 1732.9,227.4 1734.2,249.7 1735.5,292.1 1736.8,233.6 1738.1,289.4 1739.4,239.9 1740.7,307.8 1742.0,316.0 1743.3,267.0 1744.6,251.8 1745.9,294.5 1747.2,260.2 1748.5,290.8 1749.8,294.3 1751.1,246.0 1752.4,289.7 1753.7,256.3 1755.0,254.7 1756.3,292.6 1757.6,298.9 1758.9,263.2 1760.2,294.1 1761.5,260.2 1762.8,288.8 1764.1,254.6 1765.4,254.6 1766.7,302.3 1768.0,296.8 1769.3,267.4 1770.6,257.3 1771.9,307.6"/><polyline fill="none" stroke="#ff0000" stroke-width="5.5" stroke-linejoin="round" stroke-linecap="butt" points="270.0,600.0 272.0,640.0 275.0,646.0 276.0,629.7 277.3,649.5 278.6,629.6 279.9,619.1 281.2,603.6 282.5,613.3 283.8,596.1 285.1,581.6 286.4,582.1 287.7,568.6 289.0,557.3 290.3,541.6 291.6,539.4 292.9,528.5 294.2,511.7 295.5,521.1 296.8,491.0 298.1,504.5 299.4,476.6 300.7,488.2 302.0,475.0 303.3,463.0 304.6,448.4 305.9,459.0 307.2,444.9 308.5,426.7 309.8,432.9 311.1,418.9 312.4,408.2 313.7,422.4 315.0,410.1 316.3,400.6 317.6,388.9 318.9,399.0 320.2,371.1 321.5,390.2 322.8,386.3 324.1,362.1 325.4,374.1 326.7,359.1 328.0,349.2 329.3,367.1 330.6,366.2 331.9,350.3 333.2,342.7 334.5,353.9 335.8,331.7 337.1,351.9 338.4,346.5 339.7,331.1 341.0,329.3 342.3,344.6 343.6,343.3 344.9,323.0 346.2,337.8 347.5,322.7 348.8,320.1 350.1,332.3 351.4,333.1 352.7,318.4 354.0,339.6 355.3,321.3 356.6,320.0 357.9,333.6 359.2,315.4 360.5,332.4 361.8,321.1 363.1,331.1 364.4,331.4 365.7,319.1 367.0,317.2 368.3,331.9 369.6,318.7 370.9,338.7 372.2,314.8 373.5,330.5 374.8,312.7 376.1,325.8 377.4,329.4 378.7,308.4 380.0,328.0 381.3,307.6 382.6,327.8 383.9,304.3 385.2,306.4 386.5,317.3 387.8,317.2 389.1,301.8 390.4,315.3 391.7,300.9 393.0,323.6 394.3,303.2 395.6,305.1 396.9,323.7 398.2,314.9 399.5,299.9 400.8,292.1 402.1,313.9 403.4,298.1 404.7,315.6 406.0,304.1 407.3,316.0 408.6,298.6 409.9,315.6 411.2,322.5 412.5,306.1 413.8,321.6 415.1,309.2 416.4,303.2 417.7,331.2 419.0,331.2 420.3,311.4 421.6,325.8 422.9,310.6 424.2,324.5 425.5,309.6 426.8,307.7 428.1,328.8 429.4,307.9 430.7,323.6 432.0,324.9 433.3,301.0 434.6,301.2 435.9,327.3 437.2,329.4 438.5,190.0 439.8,327.2 441.1,311.3 442.4,307.2 443.7,323.1 445.0,321.9 446.3,303.1 447.6,324.9 448.9,302.6 450.2,318.8 451.5,305.6 452.8,308.2 454.1,324.9 455.4,285.0 456.7,327.2 458.0,302.6 459.3,327.0 460.6,326.5 461.9,301.0 463.2,280.0 464.5,326.8 465.8,309.6 467.1,334.7 468.4,329.4 469.7,314.2 471.0,342.3 472.3,319.7 473.6,359.7 474.9,336.9 476.2,359.1 477.5,384.3 478.8,363.6 480.1,401.5 481.4,418.9 482.7,391.1 484.0,394.3 485.3,428.1 486.6,411.1 487.9,439.4 489.2,415.5 490.5,450.0 491.8,434.5 493.1,468.6 494.4,472.4 495.7,444.1 497.0,492.4 498.3,449.0 499.6,494.5 500.9,461.6 502.2,509.1 503.5,485.5 504.8,497.3 506.1,532.5 507.4,506.8 508.7,528.3 510.0,512.0 511.3,541.4 512.6,540.8 513.9,514.7 515.2,511.1 516.5,540.2 517.8,538.5 519.1,512.6 520.4,541.8 521.7,520.2 523.0,548.3 524.3,526.8 525.6,564.5 526.9,531.2 528.2,523.6 529.5,559.5 530.8,535.3 532.1,555.0 533.4,555.1 534.7,527.7 536.0,523.9 537.3,556.3 538.6,541.7 539.9,560.4 541.2,545.3 542.5,578.1 543.8,574.7 545.1,549.5 546.4,547.0 547.7,580.1 549.0,543.1 550.3,568.2 551.6,541.6 552.9,568.8 554.2,559.2 555.5,529.1 556.8,563.5 558.1,539.7 559.4,560.4 560.7,537.9 562.0,531.4 563.3,564.5 564.6,571.2 565.9,543.3 567.2,535.4 568.5,557.5 569.8,541.3 571.1,556.9 572.4,557.9 573.7,542.5 575.0,566.0 576.3,534.5 577.6,528.8 578.9,556.3 580.2,538.0 581.5,561.6 582.8,558.7 584.1,537.0 585.4,527.7 586.7,555.5 588.0,539.0 589.3,559.1 590.6,571.9 591.9,531.1 593.2,547.3 594.5,568.3 595.8,553.6 597.1,575.5 598.4,570.2 599.7,549.2 601.0,568.2 602.3,540.7 603.6,550.2 604.9,573.6 606.2,568.7 607.5,546.5 608.8,561.9 610.1,545.6 611.4,547.5 612.7,571.8 614.0,550.2 615.3,569.3 616.6,553.4 617.9,572.4 619.2,586.4 620.5,545.1 621.8,575.3 623.1,558.0 624.4,575.4 625.7,551.7 627.0,579.1 628.3,553.8 629.6,555.0 630.9,577.3 632.2,584.0 633.5,550.3 634.8,551.7 636.1,573.8 637.4,541.8 638.7,566.8 640.0,547.3 641.3,565.9 642.6,543.1 643.9,569.4 645.2,545.8 646.5,578.2 647.8,570.6 649.1,548.8 650.4,565.4 651.7,547.3 653.0,565.7 654.3,541.4 655.6,544.3 656.9,572.4 658.2,569.9 659.5,541.1 660.8,548.7 662.1,576.3 663.4,572.0 664.7,542.6 666.0,537.9 667.3,566.6 668.6,550.8 669.9,566.8 671.2,547.2 672.5,571.4 673.8,549.0 675.1,569.2 676.4,578.8 677.7,538.5 679.0,574.4 680.3,549.4 681.6,545.2 682.9,579.5 684.2,559.3 685.5,583.6 686.8,563.7 688.1,581.6 689.4,585.2 690.7,560.7 692.0,558.1 693.3,575.5 694.6,582.0 695.9,547.0 697.2,578.2 698.5,553.3 699.8,556.7 701.1,589.3 702.4,557.3 703.7,581.3 705.0,594.4 706.3,560.2 707.6,594.2 708.9,562.6 710.2,564.6 711.5,582.1 712.8,582.2 714.1,565.7 715.4,579.6 716.7,564.3 718.0,565.0 719.3,588.6 720.6,572.8 721.9,592.2 723.2,596.3 724.5,568.6 725.8,577.9 727.1,599.9 728.4,600.4 729.7,573.2 731.0,612.9 732.3,581.4 733.6,581.4 734.9,599.4 736.2,601.5 737.5,571.3 738.8,586.1 740.1,607.2 741.4,614.1 742.7,598.0 744.0,597.9 745.3,625.4 746.6,597.0 747.9,620.4 749.2,632.3 750.5,600.8 751.8,609.5 753.1,627.0 754.4,633.6 755.7,611.8 757.0,612.9 758.3,636.5 759.6,646.5 760.9,606.7 762.2,633.7 763.5,615.0 764.8,608.6 766.1,634.5 767.4,612.9 768.7,634.8 770.0,637.1 771.3,617.9 772.6,644.3 773.9,619.5 775.2,614.2 776.5,648.1 777.8,643.7 779.1,619.5 780.4,624.8 781.7,642.9 783.0,617.5 784.3,647.9 785.6,644.2 786.9,614.0 788.2,604.4 789.5,645.4 790.8,613.9 792.1,633.6 793.4,610.4 794.7,636.6 796.0,612.9 797.3,635.9 798.6,609.7 799.9,638.4 801.2,614.2 802.5,641.2 803.8,633.4 805.1,603.7 806.4,613.3 807.7,640.6 809.0,601.6 810.3,631.9 811.6,603.9 812.9,624.5 814.2,634.7 815.5,606.5 816.8,628.1 818.1,607.4 819.4,631.7 820.7,612.6 822.0,633.1 823.3,604.3 824.6,608.3 825.9,637.3 827.2,647.1 828.5,610.8 829.8,610.2 831.1,651.5 832.4,622.5 833.7,643.2 835.0,652.8 836.3,614.4 837.6,616.0 838.9,641.3 840.2,653.5 841.5,617.8 842.8,624.4 844.1,645.6 845.4,638.4 846.7,619.4 848.0,620.4 849.3,651.8 850.6,647.2 851.9,621.6 853.2,609.8 854.5,640.1 855.8,604.4 857.1,632.9 858.4,613.1 859.7,640.6 861.0,649.4 862.3,610.3 863.6,610.1 864.9,640.2 866.2,635.8 867.5,616.2 868.8,651.2 870.1,614.2 871.4,609.9 872.7,643.3 874.0,621.2 875.3,647.2 876.6,616.2 877.9,647.4 879.2,622.2 880.5,653.1 881.8,648.5 883.1,623.4 884.4,607.6 885.7,636.2 887.0,631.5 888.3,615.0 889.6,609.9 890.9,634.3 892.2,628.0 893.5,600.8 894.8,611.6 896.1,634.2 897.4,607.5 898.7,632.6 900.0,616.1 901.3,636.3 902.6,610.4 903.9,640.6 905.2,643.5 906.5,623.3 907.8,657.7 909.1,627.6 910.4,650.8 911.7,612.9 913.0,613.0 914.3,638.4 915.6,641.4 916.9,616.3 918.2,637.8 919.5,614.2 920.8,647.4 922.1,617.9 923.4,606.2 924.7,644.2 926.0,636.3 927.3,618.3 928.6,617.1 929.9,635.8 931.2,635.6 932.5,607.9 933.8,615.4 935.1,646.0 936.4,634.2 937.7,603.7 939.0,613.3 940.3,637.3 941.6,645.4 942.9,622.3 944.2,642.5 945.5,619.3 946.8,610.0 948.1,641.3 949.4,635.5 950.7,608.0 952.0,602.2 953.3,632.1 954.6,635.4 955.9,602.3 957.2,638.5 958.5,617.8 959.8,619.1 961.1,642.0 962.4,644.4 963.7,624.0 965.0,653.2 966.3,629.3 967.6,634.4 968.9,653.8 970.2,625.8 971.5,665.2 972.8,636.1 974.1,658.0 975.4,661.2 976.7,638.0 978.0,669.2 979.3,639.3 980.6,660.5 981.9,643.2 983.2,667.0 984.5,648.3 985.8,669.0 987.1,643.5 988.4,669.1 989.7,639.6 991.0,670.3 992.3,639.3 993.6,678.5 994.9,642.2 996.2,647.4 997.5,669.5 998.8,648.8 1000.1,665.2 1001.4,656.6 1002.7,634.2 1004.0,647.3 1005.3,628.4 1006.6,621.0 1007.9,640.3 1009.2,625.7 1010.5,605.4 1011.8,615.6 1013.1,586.8 1014.4,592.3 1015.7,612.4 1017.0,613.7 1018.3,584.3 1019.6,612.4 1020.9,588.6 1022.2,624.7 1023.5,594.1 1024.8,635.3 1026.1,602.7 1027.4,616.5 1028.7,647.0 1030.0,658.9 1031.3,634.8 1032.6,646.0 1033.9,666.0 1035.2,651.0 1036.5,679.7 1037.8,653.7 1039.1,671.3 1040.4,676.1 1041.7,644.2 1043.0,678.5 1044.3,647.3 1045.6,671.4 1046.9,649.6 1048.2,648.2 1049.5,673.9 1050.8,670.8 1052.1,653.1 1053.4,685.8 1054.7,648.0 1056.0,657.1 1057.3,678.6 1058.6,654.0 1059.9,674.4 1061.2,654.7 1062.5,671.8 1063.8,674.4 1065.1,655.6 1066.4,658.8 1067.7,675.9 1069.0,658.0 1070.3,676.0 1071.6,679.5 1072.9,649.2 1074.2,649.3 1075.5,665.7 1076.8,642.4 1078.1,668.8 1079.4,667.5 1080.7,645.5 1082.0,639.8 1083.3,664.9 1084.6,635.0 1085.9,674.5 1087.2,641.6 1088.5,664.8 1089.8,644.5 1091.1,666.3 1092.4,643.1 1093.7,663.5 1095.0,661.9 1096.3,633.7 1097.6,673.0 1098.9,639.0 1100.2,671.9 1101.5,649.4 1102.8,684.6 1104.1,655.6 1105.4,657.6 1106.7,678.3 1108.0,685.9 1109.3,642.5 1110.6,654.3 1111.9,673.1 1113.2,674.1 1114.5,654.4 1115.8,673.8 1117.1,653.0 1118.4,671.4 1119.7,650.9 1121.0,672.7 1122.3,645.2 1123.6,668.8 1124.9,644.1 1126.2,678.3 1127.5,646.8 1128.8,666.2 1130.1,643.2 1131.4,672.1 1132.7,642.0 1134.0,643.1 1135.3,665.9 1136.6,669.4 1137.9,628.6 1139.2,675.1 1140.5,642.2 1141.8,646.1 1143.1,673.0 1144.4,670.4 1145.7,645.2 1147.0,668.4 1148.3,633.2 1149.6,630.8 1150.9,661.9 1152.2,663.1 1153.5,638.3 1154.8,646.6 1156.1,663.5 1157.4,647.2 1158.7,662.7 1160.0,647.6 1161.3,677.4 1162.6,669.2 1163.9,639.3 1165.2,639.7 1166.5,658.2 1167.8,668.6 1169.1,643.0 1170.4,669.7 1171.7,647.6 1173.0,649.4 1174.3,668.4 1175.6,671.4 1176.9,651.3 1178.2,647.0 1179.5,669.1 1180.8,674.6 1182.1,652.9 1183.4,637.4 1184.7,680.8 1186.0,633.8 1187.3,664.0 1188.6,669.1 1189.9,647.4 1191.2,649.0 1192.5,669.3 1193.8,648.1 1195.1,666.3 1196.4,644.8 1197.7,670.0 1199.0,678.2 1200.3,652.9 1201.6,669.7 1202.9,645.3 1204.2,667.2 1205.5,644.4 1206.8,645.2 1208.1,670.6 1209.4,673.6 1210.7,645.8 1212.0,641.2 1213.3,668.7 1214.6,666.0 1215.9,646.7 1217.2,643.5 1218.5,676.3 1219.8,648.4 1221.1,665.7 1222.4,674.8 1223.7,643.4 1225.0,673.0 1226.3,645.4 1227.6,664.5 1228.9,640.0 1230.2,676.7 1231.5,636.1 1232.8,638.6 1234.1,664.2 1235.4,657.3 1236.7,641.1 1238.0,671.1 1239.3,635.7 1240.6,667.8 1241.9,645.8 1243.2,666.4 1244.5,647.5 1245.8,666.2 1247.1,640.6 1248.4,667.5 1249.7,649.0 1251.0,679.1 1252.3,650.4 1253.6,673.7 1254.9,641.5 1256.2,670.0 1257.5,649.4 1258.8,643.9 1260.1,665.7 1261.4,644.2 1262.7,675.5 1264.0,646.5 1265.3,669.0 1266.6,666.8 1267.9,643.6 1269.2,651.3 1270.5,674.6 1271.8,639.9 1273.1,671.0 1274.4,656.9 1275.7,675.4 1277.0,681.6 1278.3,663.9 1279.6,696.6 1280.9,659.0 1282.2,663.8 1283.5,689.4 1284.8,657.4 1286.1,683.6 1287.4,681.2 1288.7,659.6 1290.0,653.4 1291.3,675.2 1292.6,649.1 1293.9,671.7 1295.2,664.3 1296.5,639.3 1297.8,634.2 1299.1,659.6 1300.4,628.1 1301.7,649.4 1303.0,621.1 1304.3,642.6 1305.6,640.0 1306.9,609.3 1308.2,641.8 1309.5,613.6 1310.8,646.4 1312.1,624.0 1313.4,641.8 1314.7,622.6 1316.0,621.9 1317.3,640.4 1318.6,663.1 1319.9,604.0 1321.2,685.1 1322.5,649.1 1323.8,670.5 1325.1,649.7 1326.4,679.2 1327.7,650.4 1329.0,651.5 1330.3,674.7 1331.6,664.7 1332.9,648.0 1334.2,666.1 1335.5,642.7 1336.8,668.6 1338.1,642.9 1339.4,660.7 1340.7,640.3 1342.0,632.3 1343.3,658.0 1344.6,668.7 1345.9,642.0 1347.2,639.2 1348.5,668.1 1349.8,674.2 1351.1,642.7 1352.4,645.9 1353.7,666.1 1355.0,639.4 1356.3,663.4 1357.6,649.3 1358.9,675.6 1360.2,652.1 1361.5,673.8 1362.8,650.4 1364.1,684.4 1365.4,640.8 1366.7,671.0 1368.0,650.2 1369.3,678.9 1370.6,678.9 1371.9,647.2 1373.2,639.5 1374.5,677.4 1375.8,646.8 1377.1,664.4 1378.4,634.6 1379.7,663.7 1381.0,641.0 1382.3,674.2 1383.6,667.0 1384.9,646.3 1386.2,674.5 1387.5,645.8 1388.8,683.6 1390.1,641.2 1391.4,677.0 1392.7,656.6 1394.0,674.7 1395.3,643.4 1396.6,651.2 1397.9,685.4 1399.2,675.8 1400.5,655.1 1401.8,691.1 1403.1,656.4 1404.4,657.9 1405.7,681.4 1407.0,684.2 1408.3,665.3 1409.6,696.2 1410.9,663.1 1412.2,650.5 1413.5,680.4 1414.8,689.8 1416.1,656.1 1417.4,647.7 1418.7,679.5 1420.0,678.6 1421.3,657.7 1422.6,656.8 1423.9,683.8 1425.2,691.6 1426.5,660.2 1427.8,676.7 1429.1,659.0 1430.4,690.0 1431.7,655.0 1433.0,680.8 1434.3,659.0 1435.6,660.9 1436.9,691.7 1438.2,681.0 1439.5,652.7 1440.8,653.7 1442.1,678.4 1443.4,657.4 1444.7,678.8 1446.0,655.1 1447.3,678.8 1448.6,679.0 1449.9,663.2 1451.2,661.2 1452.5,681.1 1453.8,680.8 1455.1,661.7 1456.4,680.9 1457.7,663.4 1459.0,653.2 1460.3,679.7 1461.6,683.6 1462.9,657.3 1464.2,661.9 1465.5,688.6 1466.8,689.2 1468.1,668.7 1469.4,663.2 1470.7,684.7 1472.0,684.3 1473.3,662.5 1474.6,655.0 1475.9,685.7 1477.2,685.8 1478.5,668.4 1479.8,687.4 1481.1,657.0 1482.4,691.2 1483.7,668.0 1485.0,686.9 1486.3,666.7 1487.6,683.8 1488.9,659.8 1490.2,664.9 1491.5,681.7 1492.8,688.9 1494.1,658.3 1495.4,678.0 1496.7,651.0 1498.0,655.6 1499.3,674.7 1500.6,685.9 1501.9,657.9 1503.2,649.7 1504.5,678.6 1505.8,682.9 1507.1,655.1 1508.4,673.3 1509.7,652.8 1511.0,671.8 1512.3,652.7 1513.6,651.5 1514.9,675.3 1516.2,679.7 1517.5,655.5 1518.8,675.7 1520.1,653.0 1521.4,658.2 1522.7,680.6 1524.0,662.1 1525.3,684.4 1526.6,662.3 1527.9,685.2 1529.2,666.1 1530.5,683.1 1531.8,660.7 1533.1,698.8 1534.4,656.3 1535.7,694.6 1537.0,663.7 1538.3,683.1 1539.6,682.2 1540.9,650.8 1542.2,687.3 1543.5,655.2 1544.8,646.3 1546.1,679.7 1547.4,656.8 1548.7,676.7 1550.0,677.4 1551.3,656.9 1552.6,672.1 1553.9,655.3 1555.2,641.5 1556.5,684.9 1557.8,684.4 1559.1,650.5 1560.4,657.2 1561.7,676.7 1563.0,680.2 1564.3,659.1 1565.6,688.0 1566.9,662.4 1568.2,683.2 1569.5,658.9 1570.8,653.3 1572.1,678.1 1573.4,650.5 1574.7,680.3 1576.0,679.1 1577.3,654.1 1578.6,657.3 1579.9,677.3 1581.2,652.0 1582.5,687.7 1583.8,680.4 1585.1,661.6 1586.4,658.6 1587.7,686.2 1589.0,687.9 1590.3,662.1 1591.6,665.7 1592.9,692.7 1594.2,683.1 1595.5,666.6 1596.8,650.5 1598.1,680.3 1599.4,661.3 1600.7,683.1 1602.0,679.6 1603.3,656.8 1604.6,658.6 1605.9,675.3 1607.2,680.3 1608.5,657.2 1609.8,683.7 1611.1,658.6 1612.4,658.7 1613.7,680.1 1615.0,654.7 1616.3,684.1 1617.6,673.2 1618.9,653.7 1620.2,676.5 1621.5,652.4 1622.8,644.9 1624.1,681.0 1625.4,646.5 1626.7,678.1 1628.0,654.8 1629.3,674.0 1630.6,655.5 1631.9,673.9 1633.2,651.5 1634.5,683.7 1635.8,660.5 1637.1,681.1 1638.4,688.1 1639.7,649.2 1641.0,681.1 1642.3,659.4 1643.6,684.0 1644.9,656.9 1646.2,655.2 1647.5,685.7 1648.8,672.4 1650.1,639.9 1651.4,674.8 1652.7,648.6 1654.0,642.2 1655.3,673.7 1656.6,641.6 1657.9,675.4 1659.2,674.3 1660.5,643.0 1661.8,646.1 1663.1,677.2 1664.4,661.6 1665.7,691.4 1667.0,678.2 1668.3,661.8 1669.6,690.9 1670.9,658.1 1672.2,682.1 1673.5,657.5 1674.8,659.6 1676.1,676.4 1677.4,683.4 1678.7,656.1 1680.0,658.7 1681.3,681.1 1682.6,658.1 1683.9,679.3 1685.2,686.3 1686.5,658.8 1687.8,679.6 1689.1,645.7 1690.4,652.3 1691.7,682.6 1693.0,650.9 1694.3,671.1 1695.6,650.5 1696.9,668.2 1698.2,647.7 1699.5,672.9 1700.8,679.3 1702.1,653.3 1703.4,682.5 1704.7,642.5 1706.0,653.5 1707.3,680.7 1708.6,661.0 1709.9,679.7 1711.2,664.4 1712.5,681.7 1713.8,655.9 1715.1,677.6 1716.4,654.0 1717.7,681.5 1719.0,689.4 1720.3,660.1 1721.6,681.3 1722.9,661.4 1724.2,684.8 1725.5,661.5 1726.8,684.1 1728.1,657.5 1729.4,685.9 1730.7,655.6 1732.0,661.6 1733.3,683.0 1734.6,662.5 1735.9,680.5 1737.2,676.0 1738.5,658.3 1739.8,650.1 1741.1,676.9 1742.4,649.5 1743.7,677.1 1745.0,658.1 1746.3,679.4 1747.6,655.1 1748.9,674.3 1750.2,670.8 1751.5,646.7 1752.8,646.7 1754.1,678.4 1755.4,681.0 1756.7,644.3 1758.0,665.7 1759.3,643.6 1760.6,631.8 1761.9,666.9 1763.2,646.1 1764.5,625.4 1765.8,645.6 1767.1,604.0 1768.4,616.5 1769.7,635.7 1771.0,645.7 1772.3,623.9"/></g>
<g><text transform="translate(233.5,1144.6) scale(1,1.07)" text-anchor="end" class="t">0.0</text><text transform="translate(233.5,1028.2) scale(1,1.07)" text-anchor="end" class="t">0.1</text><text transform="translate(233.5,911.7) scale(1,1.07)" text-anchor="end" class="t">0.2</text><text transform="translate(233.5,795.3) scale(1,1.07)" text-anchor="end" class="t">0.3</text><text transform="translate(233.5,678.8) scale(1,1.07)" text-anchor="end" class="t">0.4</text><text transform="translate(233.5,562.4) scale(1,1.07)" text-anchor="end" class="t">0.5</text><text transform="translate(233.5,446.0) scale(1,1.07)" text-anchor="end" class="t">0.6</text><text transform="translate(233.5,329.5) scale(1,1.07)" text-anchor="end" class="t">0.7</text><text transform="translate(233.5,213.1) scale(1,1.07)" text-anchor="end" class="t">0.8</text><text transform="translate(233.5,96.6) scale(1,1.07)" text-anchor="end" class="t">0.9</text><text transform="translate(269.5,1209.5) scale(1,1.07)" text-anchor="middle" class="t">0</text><text transform="translate(570.5,1209.5) scale(1,1.07)" text-anchor="middle" class="t">10</text><text transform="translate(871.5,1209.5) scale(1,1.07)" text-anchor="middle" class="t">20</text><text transform="translate(1172.5,1209.5) scale(1,1.07)" text-anchor="middle" class="t">30</text><text transform="translate(1473.5,1209.5) scale(1,1.07)" text-anchor="middle" class="t">40</text><text transform="translate(1774.5,1209.5) scale(1,1.07)" text-anchor="middle" class="t">50</text></g>
<g><text x="1021" y="1296" text-anchor="middle" class="xt">Distance (m)</text><text transform="translate(100.3,653) rotate(-90)" x="0" y="0" text-anchor="middle" class="yt">Coeffcient of friction</text></g>
<g><line x1="388.6" y1="875.7" x2="515.6" y2="875.7" stroke="#000" stroke-width="4.5"/><text x="529.6" y="894.2" class="lg"><tspan>SUS420</tspan></text><line x1="388.6" y1="964.2" x2="515.6" y2="964.2" stroke="#ff0000" stroke-width="4.5"/><text x="529.6" y="982.7" class="lg"><tspan>W</tspan><tspan class="s" dy="21">94</tspan><tspan dy="-21">N</tspan><tspan class="s" dy="21">6</tspan></text><line x1="763.5" y1="964.2" x2="890.5" y2="964.2" stroke="#ff8000" stroke-width="4.5"/><text x="904.5" y="982.7" class="lg"><tspan>Ta</tspan><tspan class="s" dy="21">8</tspan><tspan dy="-21">W</tspan><tspan class="s" dy="21">68</tspan><tspan dy="-21">N</tspan><tspan class="s" dy="21">24</tspan></text><line x1="1246.5" y1="963.5" x2="1373.5" y2="963.5" stroke="#008000" stroke-width="4.5"/><text x="1387.5" y="982.0" class="lg"><tspan>Ta</tspan><tspan class="s" dy="21">17</tspan><tspan dy="-21">W</tspan><tspan class="s" dy="21">55</tspan><tspan dy="-21">N</tspan><tspan class="s" dy="21">28</tspan></text><line x1="388.6" y1="1054.6" x2="515.6" y2="1054.6" stroke="#800000" stroke-width="4.5"/><text x="529.6" y="1073.1" class="lg"><tspan>Ta</tspan><tspan class="s" dy="21">36</tspan><tspan dy="-21">W</tspan><tspan class="s" dy="21">24</tspan><tspan dy="-21">N</tspan><tspan class="s" dy="21">40</tspan></text><line x1="837.5" y1="1054.6" x2="964.5" y2="1054.6" stroke="#8000ff" stroke-width="4.5"/><text x="978.5" y="1073.1" class="lg"><tspan>Ta</tspan><tspan class="s" dy="21">40</tspan><tspan dy="-21">W</tspan><tspan class="s" dy="21">15</tspan><tspan dy="-21">N</tspan><tspan class="s" dy="21">45</tspan></text><line x1="1318" y1="1054.8" x2="1445" y2="1054.8" stroke="#0000ff" stroke-width="4.5"/><text x="1459" y="1073.3" class="lg"><tspan>Ta</tspan><tspan class="s" dy="21">54</tspan><tspan dy="-21">N</tspan><tspan class="s" dy="21">46</tspan></text></g>
</svg>
</body></html>
